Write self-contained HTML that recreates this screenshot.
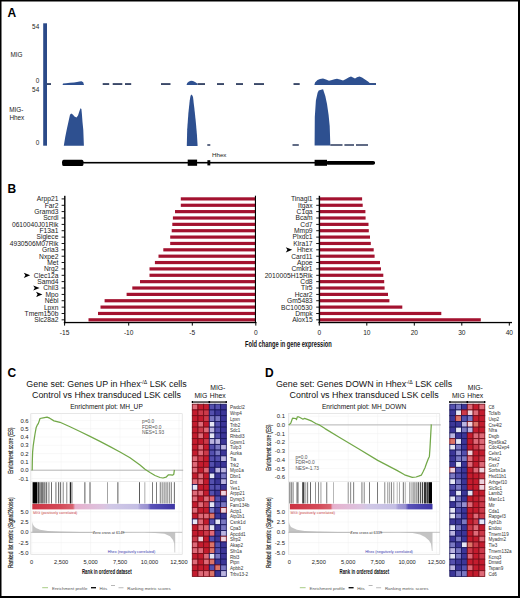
<!DOCTYPE html>
<html><head><meta charset="utf-8"><title>Figure</title>
<style>
html,body{margin:0;padding:0;background:#fff;width:520px;height:598px;overflow:hidden}
svg{display:block}
text{font-family:"Liberation Sans", sans-serif}
</style></head>
<body>
<svg width="520" height="598" viewBox="0 0 520 598">
<rect x="0" y="0" width="520" height="598" fill="#fff"/>
<text x="7.4" y="16.9" font-size="12" text-anchor="start" font-weight="bold" fill="#000" >A</text>
<rect x="43.2" y="23.3" width="3.8" height="122.4" fill="#2b4a88"/>
<text x="39.2" y="29.4" font-size="6.4" text-anchor="end" font-weight="normal" fill="#222" >54</text>
<text x="10.4" y="56.7" font-size="6.4" text-anchor="start" font-weight="normal" fill="#222" >MIG</text>
<text x="39.2" y="83.3" font-size="6.4" text-anchor="end" font-weight="normal" fill="#222" >0</text>
<text x="39.2" y="91.9" font-size="6.4" text-anchor="end" font-weight="normal" fill="#222" >54</text>
<text x="9.2" y="111.5" font-size="6.4" text-anchor="start" font-weight="normal" fill="#222" >MIG-</text>
<text x="9.4" y="119.8" font-size="6.4" text-anchor="start" font-weight="normal" fill="#222" >Hhex</text>
<text x="39.2" y="145.2" font-size="6.4" text-anchor="end" font-weight="normal" fill="#222" >0</text>
<rect x="47" y="83.1" width="4.0" height="1.9" fill="#3a4868"/>
<rect x="102.7" y="83.1" width="6.5" height="1.9" fill="#3a4868"/>
<rect x="112.7" y="83.1" width="9.6" height="1.9" fill="#3a4868"/>
<rect x="125" y="83.1" width="6.2" height="1.9" fill="#3a4868"/>
<rect x="161" y="83.1" width="9.5" height="1.9" fill="#3a4868"/>
<rect x="197.5" y="83.1" width="7.5" height="1.9" fill="#3a4868"/>
<rect x="217" y="83.1" width="7.0" height="1.9" fill="#3a4868"/>
<rect x="236" y="83.1" width="7.0" height="1.9" fill="#3a4868"/>
<rect x="254" y="83.1" width="10.0" height="1.9" fill="#3a4868"/>
<rect x="293.5" y="83.1" width="6.2" height="1.9" fill="#3a4868"/>
<rect x="369" y="83.1" width="7.0" height="1.9" fill="#3a4868"/>
<polygon points="62.6,85 63,83.6 66,83.2 70,82.8 74,82.4 77,82 79.5,81.4 81.5,81.3 83.2,82.2 84,85" fill="#2e5090"/>
<polygon points="186.6,85 187.2,83 189,81.6 191,80.8 193,81 195,82 197.3,83.5 197.6,85" fill="#2e5090"/>
<polygon points="314.4,85 315,82.5 317.5,80 320,79 323,78.4 326,79.6 329,80.8 332,80 334.5,79.2 337,78.8 340,79.5 343,80.6 346,79 349,77.2 351,76.6 353,77.4 355,78.6 357,77.2 359.5,76.4 362,77.6 365,79.6 368,81.5 370,83.2 376,83.4 376,85" fill="#2e5090"/>
<polygon points="63.8,145.8 65.2,137.3 66.8,129.3 68.4,122 70,114.8 71.2,113.4 72.8,114.6 74.5,116.6 76.5,117.4 78,115.4 79.3,111.4 80.5,108.2 81.4,109 81.9,114 82.5,122 83.3,130 83.9,145.8" fill="#2e5090"/>
<polygon points="186.8,145.9 187.2,129.2 188.4,113 189.7,100.8 190.4,96.5 191.1,94.6 192.2,95.2 193,97 194.2,107 195.8,121.8 197,135.4 197.6,145.9" fill="#2e5090"/>
<polygon points="314.6,145.6 314.8,117.1 315.9,100.6 317.6,92.8 318.7,90.6 320.3,90.1 322,89.5 323.1,89.3 323.9,91.7 325.3,96.1 327,103.9 328.6,114.9 329.7,125.9 330.3,144.3 330.3,145.6" fill="#2e5090"/>
<rect x="207.3" y="144.2" width="3.0" height="1.6" fill="#3a4868"/>
<rect x="292.5" y="144.2" width="6.3" height="1.6" fill="#3a4868"/>
<rect x="330.3" y="144.2" width="12.2" height="1.6" fill="#3a4868"/>
<rect x="344.4" y="144.2" width="9.6" height="1.6" fill="#3a4868"/>
<rect x="356" y="144.2" width="12.0" height="1.6" fill="#3a4868"/>
<rect x="62" y="161.9" width="313" height="1.6" fill="#000"/>
<rect x="62.2" y="159.8" width="21.2" height="6.2" rx="1.5" fill="#000"/>
<rect x="187.7" y="159.6" width="9.4" height="6.2" fill="#000"/>
<rect x="207.4" y="160.2" width="2.9" height="5.2" fill="#000"/>
<rect x="314.6" y="159.8" width="12.4" height="6" fill="#000"/>
<rect x="326" y="161.1" width="49" height="3.6" rx="1.8" fill="#000"/>
<text x="212" y="156.7" font-size="6.2" text-anchor="start" font-weight="normal" fill="#222" >Hhex</text>
<text x="7.6" y="192.8" font-size="12" text-anchor="start" font-weight="bold" fill="#000" >B</text>
<rect x="180.8" y="197.30" width="74.2" height="3.2" fill="#a3122f"/>
<rect x="61.6" y="198.45" width="3" height="0.9" fill="#000"/>
<text x="58.4" y="201.30" font-size="7" text-anchor="end" font-weight="normal" fill="#1a1a1a" textLength="21.55" lengthAdjust="spacingAndGlyphs">Arpp21</text>
<rect x="319.6" y="197.30" width="42.5" height="3.2" fill="#a3122f"/>
<rect x="316.2" y="198.45" width="3" height="0.9" fill="#000"/>
<text x="312.6" y="201.30" font-size="7" text-anchor="end" font-weight="normal" fill="#1a1a1a" textLength="21.68" lengthAdjust="spacingAndGlyphs">Tinagl1</text>
<rect x="180.8" y="203.67" width="74.2" height="3.2" fill="#a3122f"/>
<rect x="61.6" y="204.82" width="3" height="0.9" fill="#000"/>
<text x="58.4" y="207.67" font-size="7" text-anchor="end" font-weight="normal" fill="#1a1a1a" textLength="13.74" lengthAdjust="spacingAndGlyphs">Far2</text>
<rect x="319.6" y="203.67" width="43.1" height="3.2" fill="#a3122f"/>
<rect x="316.2" y="204.82" width="3" height="0.9" fill="#000"/>
<text x="312.6" y="207.67" font-size="7" text-anchor="end" font-weight="normal" fill="#1a1a1a" textLength="14.49" lengthAdjust="spacingAndGlyphs">Itgax</text>
<rect x="175" y="210.03" width="80.0" height="3.2" fill="#a3122f"/>
<rect x="61.6" y="211.18" width="3" height="0.9" fill="#000"/>
<text x="58.4" y="214.03" font-size="7" text-anchor="end" font-weight="normal" fill="#1a1a1a" textLength="24.15" lengthAdjust="spacingAndGlyphs">Gramd3</text>
<rect x="319.6" y="210.03" width="45.8" height="3.2" fill="#a3122f"/>
<rect x="316.2" y="211.18" width="3" height="0.9" fill="#000"/>
<text x="312.6" y="214.03" font-size="7" text-anchor="end" font-weight="normal" fill="#1a1a1a" textLength="15.98" lengthAdjust="spacingAndGlyphs">C1qa</text>
<rect x="172.9" y="216.40" width="82.1" height="3.2" fill="#a3122f"/>
<rect x="61.6" y="217.55" width="3" height="0.9" fill="#000"/>
<text x="58.4" y="220.40" font-size="7" text-anchor="end" font-weight="normal" fill="#1a1a1a" textLength="15.23" lengthAdjust="spacingAndGlyphs">Scrdl</text>
<rect x="319.6" y="216.40" width="46.0" height="3.2" fill="#a3122f"/>
<rect x="316.2" y="217.55" width="3" height="0.9" fill="#000"/>
<text x="312.6" y="220.40" font-size="7" text-anchor="end" font-weight="normal" fill="#1a1a1a" textLength="17.09" lengthAdjust="spacingAndGlyphs">Bcam</text>
<rect x="172.3" y="222.76" width="82.7" height="3.2" fill="#a3122f"/>
<rect x="61.6" y="223.91" width="3" height="0.9" fill="#000"/>
<text x="58.4" y="226.76" font-size="7" text-anchor="end" font-weight="normal" fill="#1a1a1a" textLength="46.46" lengthAdjust="spacingAndGlyphs">0610040J01Rik</text>
<rect x="319.6" y="222.76" width="48.9" height="3.2" fill="#a3122f"/>
<rect x="316.2" y="223.91" width="3" height="0.9" fill="#000"/>
<text x="312.6" y="226.76" font-size="7" text-anchor="end" font-weight="normal" fill="#1a1a1a" textLength="12.26" lengthAdjust="spacingAndGlyphs">Cd7</text>
<rect x="171.7" y="229.12" width="83.3" height="3.2" fill="#a3122f"/>
<rect x="61.6" y="230.28" width="3" height="0.9" fill="#000"/>
<text x="58.4" y="233.12" font-size="7" text-anchor="end" font-weight="normal" fill="#1a1a1a" textLength="18.95" lengthAdjust="spacingAndGlyphs">F13a1</text>
<rect x="319.6" y="229.12" width="49.2" height="3.2" fill="#a3122f"/>
<rect x="316.2" y="230.28" width="3" height="0.9" fill="#000"/>
<text x="312.6" y="233.12" font-size="7" text-anchor="end" font-weight="normal" fill="#1a1a1a" textLength="18.57" lengthAdjust="spacingAndGlyphs">Mmp9</text>
<rect x="170.2" y="235.49" width="84.8" height="3.2" fill="#a3122f"/>
<rect x="61.6" y="236.64" width="3" height="0.9" fill="#000"/>
<text x="58.4" y="239.49" font-size="7" text-anchor="end" font-weight="normal" fill="#1a1a1a" textLength="21.92" lengthAdjust="spacingAndGlyphs">Siglece</text>
<rect x="319.6" y="235.49" width="50.4" height="3.2" fill="#a3122f"/>
<rect x="316.2" y="236.64" width="3" height="0.9" fill="#000"/>
<text x="312.6" y="239.49" font-size="7" text-anchor="end" font-weight="normal" fill="#1a1a1a" textLength="20.06" lengthAdjust="spacingAndGlyphs">Plxdc1</text>
<rect x="170.2" y="241.86" width="84.8" height="3.2" fill="#a3122f"/>
<rect x="61.6" y="243.01" width="3" height="0.9" fill="#000"/>
<text x="58.4" y="245.86" font-size="7" text-anchor="end" font-weight="normal" fill="#1a1a1a" textLength="48.68" lengthAdjust="spacingAndGlyphs">4930506M07Rik</text>
<rect x="319.6" y="241.86" width="51.2" height="3.2" fill="#a3122f"/>
<rect x="316.2" y="243.01" width="3" height="0.9" fill="#000"/>
<text x="312.6" y="245.86" font-size="7" text-anchor="end" font-weight="normal" fill="#1a1a1a" textLength="19.32" lengthAdjust="spacingAndGlyphs">Klra17</text>
<rect x="163.3" y="248.22" width="91.7" height="3.2" fill="#a3122f"/>
<rect x="61.6" y="249.37" width="3" height="0.9" fill="#000"/>
<text x="58.4" y="252.22" font-size="7" text-anchor="end" font-weight="normal" fill="#1a1a1a" textLength="16.35" lengthAdjust="spacingAndGlyphs">Gria3</text>
<rect x="319.6" y="248.22" width="54.1" height="3.2" fill="#a3122f"/>
<rect x="316.2" y="249.37" width="3" height="0.9" fill="#000"/>
<text x="312.6" y="252.22" font-size="7" text-anchor="end" font-weight="normal" fill="#1a1a1a" textLength="15.61" lengthAdjust="spacingAndGlyphs">Hhex</text>
<rect x="158.5" y="254.59" width="96.5" height="3.2" fill="#a3122f"/>
<rect x="61.6" y="255.74" width="3" height="0.9" fill="#000"/>
<text x="58.4" y="258.58" font-size="7" text-anchor="end" font-weight="normal" fill="#1a1a1a" textLength="19.32" lengthAdjust="spacingAndGlyphs">Nxpe2</text>
<rect x="319.6" y="254.59" width="55.0" height="3.2" fill="#a3122f"/>
<rect x="316.2" y="255.74" width="3" height="0.9" fill="#000"/>
<text x="312.6" y="258.58" font-size="7" text-anchor="end" font-weight="normal" fill="#1a1a1a" textLength="21.43" lengthAdjust="spacingAndGlyphs">Card11</text>
<rect x="154.9" y="260.95" width="100.1" height="3.2" fill="#a3122f"/>
<rect x="61.6" y="262.10" width="3" height="0.9" fill="#000"/>
<text x="58.4" y="264.95" font-size="7" text-anchor="end" font-weight="normal" fill="#1a1a1a" textLength="11.14" lengthAdjust="spacingAndGlyphs">Met</text>
<rect x="319.6" y="260.95" width="60.4" height="3.2" fill="#a3122f"/>
<rect x="316.2" y="262.10" width="3" height="0.9" fill="#000"/>
<text x="312.6" y="264.95" font-size="7" text-anchor="end" font-weight="normal" fill="#1a1a1a" textLength="15.61" lengthAdjust="spacingAndGlyphs">Apoe</text>
<rect x="149.5" y="267.31" width="105.5" height="3.2" fill="#a3122f"/>
<rect x="61.6" y="268.47" width="3" height="0.9" fill="#000"/>
<text x="58.4" y="271.31" font-size="7" text-anchor="end" font-weight="normal" fill="#1a1a1a" textLength="14.49" lengthAdjust="spacingAndGlyphs">Nrg2</text>
<rect x="319.6" y="267.31" width="61.4" height="3.2" fill="#a3122f"/>
<rect x="316.2" y="268.47" width="3" height="0.9" fill="#000"/>
<text x="312.6" y="271.31" font-size="7" text-anchor="end" font-weight="normal" fill="#1a1a1a" textLength="21.17" lengthAdjust="spacingAndGlyphs">Cmklr1</text>
<rect x="149.5" y="273.68" width="105.5" height="3.2" fill="#a3122f"/>
<rect x="61.6" y="274.83" width="3" height="0.9" fill="#000"/>
<text x="58.4" y="277.68" font-size="7" text-anchor="end" font-weight="normal" fill="#1a1a1a" textLength="24.53" lengthAdjust="spacingAndGlyphs">Clec12a</text>
<rect x="319.6" y="273.68" width="63.7" height="3.2" fill="#a3122f"/>
<rect x="316.2" y="274.83" width="3" height="0.9" fill="#000"/>
<text x="312.6" y="277.68" font-size="7" text-anchor="end" font-weight="normal" fill="#1a1a1a" textLength="47.94" lengthAdjust="spacingAndGlyphs">2010005H15Rik</text>
<rect x="140" y="280.05" width="115.0" height="3.2" fill="#a3122f"/>
<rect x="61.6" y="281.20" width="3" height="0.9" fill="#000"/>
<text x="58.4" y="284.05" font-size="7" text-anchor="end" font-weight="normal" fill="#1a1a1a" textLength="21.18" lengthAdjust="spacingAndGlyphs">Samd4</text>
<rect x="319.6" y="280.05" width="64.6" height="3.2" fill="#a3122f"/>
<rect x="316.2" y="281.20" width="3" height="0.9" fill="#000"/>
<text x="312.6" y="284.05" font-size="7" text-anchor="end" font-weight="normal" fill="#1a1a1a" textLength="12.26" lengthAdjust="spacingAndGlyphs">Cd8</text>
<rect x="132.3" y="286.41" width="122.7" height="3.2" fill="#a3122f"/>
<rect x="61.6" y="287.56" width="3" height="0.9" fill="#000"/>
<text x="58.4" y="290.41" font-size="7" text-anchor="end" font-weight="normal" fill="#1a1a1a" textLength="15.23" lengthAdjust="spacingAndGlyphs">Chil3</text>
<rect x="319.6" y="286.41" width="65.0" height="3.2" fill="#a3122f"/>
<rect x="316.2" y="287.56" width="3" height="0.9" fill="#000"/>
<text x="312.6" y="290.41" font-size="7" text-anchor="end" font-weight="normal" fill="#1a1a1a" textLength="11.51" lengthAdjust="spacingAndGlyphs">Tlr5</text>
<rect x="126.6" y="292.78" width="128.4" height="3.2" fill="#a3122f"/>
<rect x="61.6" y="293.93" width="3" height="0.9" fill="#000"/>
<text x="58.4" y="296.78" font-size="7" text-anchor="end" font-weight="normal" fill="#1a1a1a" textLength="13.00" lengthAdjust="spacingAndGlyphs">Mpo</text>
<rect x="319.6" y="292.78" width="68.4" height="3.2" fill="#a3122f"/>
<rect x="316.2" y="293.93" width="3" height="0.9" fill="#000"/>
<text x="312.6" y="296.78" font-size="7" text-anchor="end" font-weight="normal" fill="#1a1a1a" textLength="17.83" lengthAdjust="spacingAndGlyphs">Hcar2</text>
<rect x="104.6" y="299.14" width="150.4" height="3.2" fill="#a3122f"/>
<rect x="61.6" y="300.29" width="3" height="0.9" fill="#000"/>
<text x="58.4" y="303.14" font-size="7" text-anchor="end" font-weight="normal" fill="#1a1a1a" textLength="13.75" lengthAdjust="spacingAndGlyphs">Nebl</text>
<rect x="319.6" y="299.14" width="69.8" height="3.2" fill="#a3122f"/>
<rect x="316.2" y="300.29" width="3" height="0.9" fill="#000"/>
<text x="312.6" y="303.14" font-size="7" text-anchor="end" font-weight="normal" fill="#1a1a1a" textLength="25.64" lengthAdjust="spacingAndGlyphs">Gm5483</text>
<rect x="100.5" y="305.50" width="154.5" height="3.2" fill="#a3122f"/>
<rect x="61.6" y="306.66" width="3" height="0.9" fill="#000"/>
<text x="58.4" y="309.50" font-size="7" text-anchor="end" font-weight="normal" fill="#1a1a1a" textLength="14.49" lengthAdjust="spacingAndGlyphs">Lpxn</text>
<rect x="319.6" y="305.50" width="82.7" height="3.2" fill="#a3122f"/>
<rect x="316.2" y="306.66" width="3" height="0.9" fill="#000"/>
<text x="312.6" y="309.50" font-size="7" text-anchor="end" font-weight="normal" fill="#1a1a1a" textLength="31.59" lengthAdjust="spacingAndGlyphs">BC100530</text>
<rect x="98" y="311.87" width="157.0" height="3.2" fill="#a3122f"/>
<rect x="61.6" y="313.02" width="3" height="0.9" fill="#000"/>
<text x="58.4" y="315.87" font-size="7" text-anchor="end" font-weight="normal" fill="#1a1a1a" textLength="33.81" lengthAdjust="spacingAndGlyphs">Tmem150b</text>
<rect x="319.6" y="311.87" width="121.7" height="3.2" fill="#a3122f"/>
<rect x="316.2" y="313.02" width="3" height="0.9" fill="#000"/>
<text x="312.6" y="315.87" font-size="7" text-anchor="end" font-weight="normal" fill="#1a1a1a" textLength="17.46" lengthAdjust="spacingAndGlyphs">Dmpk</text>
<rect x="88.5" y="318.24" width="166.5" height="3.2" fill="#a3122f"/>
<rect x="61.6" y="319.39" width="3" height="0.9" fill="#000"/>
<text x="58.4" y="322.24" font-size="7" text-anchor="end" font-weight="normal" fill="#1a1a1a" textLength="24.16" lengthAdjust="spacingAndGlyphs">Slc28a2</text>
<rect x="319.6" y="318.24" width="161.2" height="3.2" fill="#a3122f"/>
<rect x="316.2" y="319.39" width="3" height="0.9" fill="#000"/>
<text x="312.6" y="322.24" font-size="7" text-anchor="end" font-weight="normal" fill="#1a1a1a" textLength="20.44" lengthAdjust="spacingAndGlyphs">Alox15</text>
<polygon points="23.8,272.68 30.200000000000003,275.28000000000003 23.8,277.88000000000005 25.400000000000002,275.28000000000003" fill="#000"/>
<polygon points="33.2,285.41 39.6,288.01000000000005 33.2,290.61000000000007 34.800000000000004,288.01000000000005" fill="#000"/>
<polygon points="36.0,291.77500000000003 42.4,294.37500000000006 36.0,296.9750000000001 37.6,294.37500000000006" fill="#000"/>
<polygon points="285.8,247.22000000000003 292.2,249.82000000000002 285.8,252.42000000000002 287.40000000000003,249.82000000000002" fill="#000"/>
<rect x="64.1" y="195.8" width="1.4" height="127.4" fill="#000"/>
<rect x="63.8" y="321.9" width="192.6" height="1.3" fill="#000"/>
<rect x="254.9" y="195.7" width="1.1" height="127" fill="#000"/>
<rect x="64.1" y="322" width="1" height="3.6" fill="#000"/>
<text x="64.6" y="334.6" font-size="6.6" text-anchor="middle" font-weight="normal" fill="#222" >-15</text>
<rect x="128.2" y="322" width="1" height="3.6" fill="#000"/>
<text x="128.7" y="334.6" font-size="6.6" text-anchor="middle" font-weight="normal" fill="#222" >-10</text>
<rect x="191.8" y="322" width="1" height="3.6" fill="#000"/>
<text x="192.3" y="334.6" font-size="6.6" text-anchor="middle" font-weight="normal" fill="#222" >-5</text>
<rect x="255.3" y="322" width="1" height="3.6" fill="#000"/>
<text x="255.8" y="334.6" font-size="6.6" text-anchor="middle" font-weight="normal" fill="#222" >0</text>
<rect x="318.7" y="195.8" width="1.4" height="127.4" fill="#000"/>
<rect x="318.6" y="321.9" width="193.4" height="1.3" fill="#000"/>
<rect x="318.8" y="322" width="1" height="3.6" fill="#000"/>
<text x="319.3" y="334.6" font-size="6.6" text-anchor="middle" font-weight="normal" fill="#222" >0</text>
<rect x="366.3" y="322" width="1" height="3.6" fill="#000"/>
<text x="366.8" y="334.6" font-size="6.6" text-anchor="middle" font-weight="normal" fill="#222" >10</text>
<rect x="413.8" y="322" width="1" height="3.6" fill="#000"/>
<text x="414.3" y="334.6" font-size="6.6" text-anchor="middle" font-weight="normal" fill="#222" >20</text>
<rect x="461.3" y="322" width="1" height="3.6" fill="#000"/>
<text x="461.8" y="334.6" font-size="6.6" text-anchor="middle" font-weight="normal" fill="#222" >30</text>
<rect x="508.8" y="322" width="1" height="3.6" fill="#000"/>
<text x="509.3" y="334.6" font-size="6.6" text-anchor="middle" font-weight="normal" fill="#222" >40</text>
<text x="245" y="346.8" font-size="8.2" text-anchor="start" font-weight="bold" fill="#111" textLength="86.8" lengthAdjust="spacingAndGlyphs">Fold change in gene expression</text>
<text x="7.4" y="376.5" font-size="12" text-anchor="start" font-weight="bold" fill="#000" >C</text>
<text x="106.5" y="387.1" font-size="8.9" text-anchor="middle" fill="#111">Gene set: Genes UP in Hhex<tspan font-size="5.2" dy="-3.4">-/Δ</tspan><tspan dy="3.4"> LSK cells</tspan></text>
<text x="106.5" y="397.7" font-size="8.9" text-anchor="middle" font-weight="normal" fill="#111" >Control vs Hhex transduced LSK cells</text>
<text x="106.5" y="409" font-size="6.6" text-anchor="middle" font-weight="normal" fill="#111" >Enrichment plot: MH_UP</text>
<rect x="30.8" y="413.7" width="151.4" height="140.9" fill="none" stroke="#d8d8d8" stroke-width="0.6"/>
<line x1="30.8" y1="420.40" x2="182.2" y2="420.40" stroke="#f0f0f0" stroke-width="0.5"/>
<text x="28.6" y="422.50" font-size="5.9" text-anchor="end" font-weight="normal" fill="#222" >0.6</text>
<line x1="30.8" y1="428.70" x2="182.2" y2="428.70" stroke="#f0f0f0" stroke-width="0.5"/>
<text x="28.6" y="430.80" font-size="5.9" text-anchor="end" font-weight="normal" fill="#222" >0.5</text>
<line x1="30.8" y1="437.00" x2="182.2" y2="437.00" stroke="#f0f0f0" stroke-width="0.5"/>
<text x="28.6" y="439.10" font-size="5.9" text-anchor="end" font-weight="normal" fill="#222" >0.4</text>
<line x1="30.8" y1="445.30" x2="182.2" y2="445.30" stroke="#f0f0f0" stroke-width="0.5"/>
<text x="28.6" y="447.40" font-size="5.9" text-anchor="end" font-weight="normal" fill="#222" >0.3</text>
<line x1="30.8" y1="453.60" x2="182.2" y2="453.60" stroke="#f0f0f0" stroke-width="0.5"/>
<text x="28.6" y="455.70" font-size="5.9" text-anchor="end" font-weight="normal" fill="#222" >0.2</text>
<line x1="30.8" y1="461.90" x2="182.2" y2="461.90" stroke="#f0f0f0" stroke-width="0.5"/>
<text x="28.6" y="464.00" font-size="5.9" text-anchor="end" font-weight="normal" fill="#222" >0.1</text>
<line x1="30.8" y1="470.20" x2="182.2" y2="470.20" stroke="#f0f0f0" stroke-width="0.5"/>
<text x="28.6" y="472.30" font-size="5.9" text-anchor="end" font-weight="normal" fill="#222" >0.0</text>
<line x1="30.8" y1="478.50" x2="182.2" y2="478.50" stroke="#f0f0f0" stroke-width="0.5"/>
<text x="28.6" y="480.60" font-size="5.9" text-anchor="end" font-weight="normal" fill="#222" >-0.1</text>
<line x1="31.70" y1="413.7" x2="31.70" y2="554.6" stroke="#f0f0f0" stroke-width="0.5"/>
<line x1="61.15" y1="413.7" x2="61.15" y2="554.6" stroke="#f0f0f0" stroke-width="0.5"/>
<line x1="90.60" y1="413.7" x2="90.60" y2="554.6" stroke="#f0f0f0" stroke-width="0.5"/>
<line x1="120.05" y1="413.7" x2="120.05" y2="554.6" stroke="#f0f0f0" stroke-width="0.5"/>
<line x1="149.50" y1="413.7" x2="149.50" y2="554.6" stroke="#f0f0f0" stroke-width="0.5"/>
<line x1="178.95" y1="413.7" x2="178.95" y2="554.6" stroke="#f0f0f0" stroke-width="0.5"/>
<line x1="30.8" y1="470.20" x2="183.2" y2="470.20" stroke="#8a8a8a" stroke-width="0.6"/>
<polyline points="32.2,470.2 32.3,462.0 32.6,452.4 33.2,446.0 34.0,440.4 35.0,434.0 36.2,427.4 37.2,425.2 38.3,423.6 39.2,421.0 40.0,418.5 43.2,417.8 47.0,417.1 49.7,418.2 54.0,420.9 60.0,422.3 70.0,426.8 80.0,431.5 90.0,436.4 100.0,441.4 110.0,446.6 120.0,452.0 130.0,457.8 140.0,465.0 145.0,469.2 150.0,472.5 155.0,475.5 160.0,477.5 163.0,478.0 166.0,477.2 168.5,474.8 170.5,474.8 172.5,475.2 173.8,474.2 174.4,469.8" fill="none" stroke="#72a848" stroke-width="1.25" stroke-linejoin="round"/>
<text x="142.1" y="423.2" font-size="4.8" text-anchor="start" font-weight="normal" fill="#555" >p=0.0</text>
<text x="142.1" y="428.7" font-size="4.8" text-anchor="start" font-weight="normal" fill="#555" >FDR=0.0</text>
<text x="142.1" y="434.2" font-size="4.8" text-anchor="start" font-weight="normal" fill="#555" >NES=1.93</text>
<line x1="30.8" y1="481.5" x2="182.2" y2="481.5" stroke="#d8d8d8" stroke-width="0.5"/>
<rect x="32.6" y="482.2" width="4.6" height="21.3" fill="#000"/>
<rect x="37.6" y="482.2" width="0.8" height="21.3" fill="#222"/>
<rect x="38.3" y="482.2" width="1.2" height="21.3" fill="#111"/>
<rect x="40.3" y="482.2" width="1.6" height="21.3" fill="#666"/>
<rect x="42.2" y="482.2" width="1.4" height="21.3" fill="#555"/>
<rect x="44.0" y="482.2" width="1.2" height="21.3" fill="#888"/>
<rect x="45.6" y="482.2" width="1.6" height="21.3" fill="#777"/>
<rect x="48.6" y="482.2" width="0.7" height="21.3" fill="#444"/>
<rect x="51.0" y="482.2" width="0.7" height="21.3" fill="#333"/>
<rect x="55.6" y="482.2" width="0.7" height="21.3" fill="#333"/>
<rect x="58.0" y="482.2" width="1.2" height="21.3" fill="#777"/>
<rect x="60.1" y="482.2" width="1" height="21.3" fill="#666"/>
<rect x="62.8" y="482.2" width="0.7" height="21.3" fill="#555"/>
<rect x="66.5" y="482.2" width="0.7" height="21.3" fill="#555"/>
<rect x="69.8" y="482.2" width="1.5" height="21.3" fill="#222"/>
<rect x="71.8" y="482.2" width="0.6" height="21.3" fill="#666"/>
<rect x="84.5" y="482.2" width="0.8" height="21.3" fill="#333"/>
<rect x="89.6" y="482.2" width="0.8" height="21.3" fill="#333"/>
<rect x="107.3" y="482.2" width="0.6" height="21.3" fill="#666"/>
<rect x="117.5" y="482.2" width="0.8" height="21.3" fill="#333"/>
<rect x="139.0" y="482.2" width="0.8" height="21.3" fill="#333"/>
<rect x="144.6" y="482.2" width="0.6" height="21.3" fill="#777"/>
<rect x="152.2" y="482.2" width="0.7" height="21.3" fill="#444"/>
<rect x="156.2" y="482.2" width="0.7" height="21.3" fill="#444"/>
<rect x="159.7" y="482.2" width="1.6" height="21.3" fill="#999"/>
<rect x="161.8" y="482.2" width="1.8" height="21.3" fill="#aaa"/>
<rect x="164.2" y="482.2" width="1.4" height="21.3" fill="#999"/>
<rect x="166.2" y="482.2" width="2" height="21.3" fill="#aaa"/>
<rect x="168.8" y="482.2" width="1.5" height="21.3" fill="#999"/>
<rect x="171.0" y="482.2" width="0.8" height="21.3" fill="#777"/>
<rect x="173.9" y="482.2" width="0.8" height="21.3" fill="#444"/>
<defs><linearGradient id="gC" x1="0" x2="1" y1="0" y2="0"><stop offset="0" stop-color="#cc3242"/><stop offset="0.2" stop-color="#d44a58"/><stop offset="0.285" stop-color="#d86470"/><stop offset="0.3" stop-color="#e6b0cc"/><stop offset="0.5" stop-color="#dcc4e0"/><stop offset="0.55" stop-color="#d0c8e6"/><stop offset="0.74" stop-color="#c4bee4"/><stop offset="0.76" stop-color="#a49cd6"/><stop offset="0.81" stop-color="#9890d0"/><stop offset="0.83" stop-color="#5a52b8"/><stop offset="1" stop-color="#3c34a4"/></linearGradient></defs>
<rect x="32.3" y="503.9" width="142.6" height="5.5" fill="url(#gC)"/>
<text x="33" y="513.6" font-size="3.8" text-anchor="start" font-weight="normal" fill="#c83a3a" >MIG (positively correlated)</text>
<line x1="30.8" y1="511.70" x2="182.2" y2="511.70" stroke="#f0f0f0" stroke-width="0.5"/>
<text x="28.6" y="513.80" font-size="5.9" text-anchor="end" font-weight="normal" fill="#222" >5.0</text>
<line x1="30.8" y1="522.00" x2="182.2" y2="522.00" stroke="#f0f0f0" stroke-width="0.5"/>
<text x="28.6" y="524.10" font-size="5.9" text-anchor="end" font-weight="normal" fill="#222" >2.5</text>
<line x1="30.8" y1="532.30" x2="182.2" y2="532.30" stroke="#f0f0f0" stroke-width="0.5"/>
<text x="28.6" y="534.40" font-size="5.9" text-anchor="end" font-weight="normal" fill="#222" >0.0</text>
<line x1="30.8" y1="542.60" x2="182.2" y2="542.60" stroke="#f0f0f0" stroke-width="0.5"/>
<text x="28.6" y="544.70" font-size="5.9" text-anchor="end" font-weight="normal" fill="#222" >-2.5</text>
<line x1="30.8" y1="552.90" x2="182.2" y2="552.90" stroke="#f0f0f0" stroke-width="0.5"/>
<text x="28.6" y="555.00" font-size="5.9" text-anchor="end" font-weight="normal" fill="#222" >-5.0</text>
<polygon points="32.3,532.4 32.3,521.9 33.0,524.5 34.0,526.3 36.0,528.1 40.0,529.8 48.0,531.0 60.0,531.6 80.0,532.0 110.0,532.2 144.5,532.4 155.0,532.9 164.5,533.8 170.0,536.3 173.0,540.0 174.2,543.5 174.5,552.5 175.2,552.5 175.2,532.4" fill="#c4c4c4"/>
<line x1="30.8" y1="532.3" x2="182.2" y2="532.3" stroke="#8a8a8a" stroke-width="0.5"/>
<rect x="94.6" y="530.3" width="28" height="4" fill="#fff"/>
<text x="108.6" y="533.6" font-size="3.8" text-anchor="middle" font-weight="normal" fill="#333" >Zero cross at 6149</text>
<text x="131.5" y="553.3" font-size="3.8" text-anchor="middle" font-weight="normal" fill="#3a3ab0" >Hhex (negatively correlated)</text>
<text x="31.70" y="563.6" font-size="5.7" text-anchor="middle" font-weight="normal" fill="#222" >0</text>
<text x="61.15" y="563.6" font-size="5.7" text-anchor="middle" font-weight="normal" fill="#222" >2,500</text>
<text x="90.60" y="563.6" font-size="5.7" text-anchor="middle" font-weight="normal" fill="#222" >5,000</text>
<text x="120.05" y="563.6" font-size="5.7" text-anchor="middle" font-weight="normal" fill="#222" >7,500</text>
<text x="149.50" y="563.6" font-size="5.7" text-anchor="middle" font-weight="normal" fill="#222" >10,000</text>
<text x="178.95" y="563.6" font-size="5.7" text-anchor="middle" font-weight="normal" fill="#222" >12,500</text>
<text x="81.9" y="574.2" font-size="7.2" text-anchor="start" font-weight="bold" fill="#111" textLength="49.7" lengthAdjust="spacingAndGlyphs">Rank in ordered dataset</text>
<text transform="translate(13.1,450.6) rotate(-90)" font-size="7" text-anchor="middle" fill="#111" stroke="#111" stroke-width="0.15" textLength="46.3" lengthAdjust="spacingAndGlyphs">Enrichment score (ES)</text>
<text transform="translate(13.1,532.7) rotate(-90)" font-size="7" text-anchor="middle" fill="#111" stroke="#111" stroke-width="0.15" textLength="70.8" lengthAdjust="spacingAndGlyphs">Ranked list metric (Signal2Noise)</text>
<rect x="42.2" y="587.2" width="5.8" height="1" fill="#a9cc86"/>
<text x="52" y="589.6" font-size="4.4" text-anchor="start" font-weight="normal" fill="#555" >Enrichment profile</text>
<rect x="91" y="587" width="5" height="1.4" fill="#111"/>
<text x="99.6" y="589.6" font-size="4.4" text-anchor="start" font-weight="normal" fill="#555" >Hits</text>
<rect x="111" y="585.4" width="4" height="0.6" fill="#888"/>
<rect x="118.5" y="587.4" width="5" height="0.8" fill="#aaa"/>
<text x="127.3" y="589.6" font-size="4.4" text-anchor="start" font-weight="normal" fill="#555" >Ranking metric scores</text>
<text x="200.8" y="398.4" font-size="6.8" text-anchor="middle" font-weight="normal" fill="#111" >MIG</text>
<text x="217.8" y="389.9" font-size="6.8" text-anchor="middle" font-weight="normal" fill="#111" >MIG-</text>
<text x="217.8" y="398.4" font-size="6.8" text-anchor="middle" font-weight="normal" fill="#111" >Hhex</text>
<rect x="191.90" y="401.4" width="34.82" height="1.3" fill="#1a1a1a"/>
<rect x="191.80" y="401" width="1.2" height="2" fill="#000"/>
<rect x="225.62" y="401" width="1.2" height="2" fill="#000"/>
<rect x="208.51" y="401" width="1.6" height="2" fill="#000"/>
<rect x="192.30" y="404.20" width="5.67" height="5.74" fill="#de6a78" stroke="#760c18" stroke-width="0.85"/>
<rect x="197.97" y="404.20" width="5.67" height="5.74" fill="#c41c2e" stroke="#760c18" stroke-width="0.85"/>
<rect x="203.64" y="404.20" width="5.67" height="5.74" fill="#c41c2e" stroke="#760c18" stroke-width="0.85"/>
<rect x="209.31" y="404.20" width="5.67" height="5.74" fill="#5450ae" stroke="#18165c" stroke-width="0.85"/>
<rect x="214.98" y="404.20" width="5.67" height="5.74" fill="#5450ae" stroke="#18165c" stroke-width="0.85"/>
<rect x="220.65" y="404.20" width="5.67" height="5.74" fill="#3c3698" stroke="#18165c" stroke-width="0.85"/>
<text x="229.92" y="409.30" font-size="4.6" text-anchor="start" font-weight="normal" fill="#333" >Pwdcl2</text>
<rect x="192.30" y="409.94" width="5.67" height="5.74" fill="#c41c2e" stroke="#760c18" stroke-width="0.85"/>
<rect x="197.97" y="409.94" width="5.67" height="5.74" fill="#cc3a4a" stroke="#760c18" stroke-width="0.85"/>
<rect x="203.64" y="409.94" width="5.67" height="5.74" fill="#cc3a4a" stroke="#760c18" stroke-width="0.85"/>
<rect x="209.31" y="409.94" width="5.67" height="5.74" fill="#5450ae" stroke="#18165c" stroke-width="0.85"/>
<rect x="214.98" y="409.94" width="5.67" height="5.74" fill="#3c3698" stroke="#18165c" stroke-width="0.85"/>
<rect x="220.65" y="409.94" width="5.67" height="5.74" fill="#3c3698" stroke="#18165c" stroke-width="0.85"/>
<text x="229.92" y="415.04" font-size="4.6" text-anchor="start" font-weight="normal" fill="#333" >Wnp4</text>
<rect x="192.30" y="415.68" width="5.67" height="5.74" fill="#c41c2e" stroke="#760c18" stroke-width="0.85"/>
<rect x="197.97" y="415.68" width="5.67" height="5.74" fill="#c41c2e" stroke="#760c18" stroke-width="0.85"/>
<rect x="203.64" y="415.68" width="5.67" height="5.74" fill="#cc3a4a" stroke="#760c18" stroke-width="0.85"/>
<rect x="209.31" y="415.68" width="5.67" height="5.74" fill="#7a78c2" stroke="#18165c" stroke-width="0.85"/>
<rect x="214.98" y="415.68" width="5.67" height="5.74" fill="#7a78c2" stroke="#18165c" stroke-width="0.85"/>
<rect x="220.65" y="415.68" width="5.67" height="5.74" fill="#3c3698" stroke="#18165c" stroke-width="0.85"/>
<text x="229.92" y="420.78" font-size="4.6" text-anchor="start" font-weight="normal" fill="#333" >Lpxn</text>
<rect x="192.30" y="421.42" width="5.67" height="5.74" fill="#c41c2e" stroke="#760c18" stroke-width="0.85"/>
<rect x="197.97" y="421.42" width="5.67" height="5.74" fill="#de6a78" stroke="#760c18" stroke-width="0.85"/>
<rect x="203.64" y="421.42" width="5.67" height="5.74" fill="#c41c2e" stroke="#760c18" stroke-width="0.85"/>
<rect x="209.31" y="421.42" width="5.67" height="5.74" fill="#e4e6f4" stroke="#18165c" stroke-width="0.85"/>
<rect x="214.98" y="421.42" width="5.67" height="5.74" fill="#5450ae" stroke="#18165c" stroke-width="0.85"/>
<rect x="220.65" y="421.42" width="5.67" height="5.74" fill="#3c3698" stroke="#18165c" stroke-width="0.85"/>
<text x="229.92" y="426.52" font-size="4.6" text-anchor="start" font-weight="normal" fill="#333" >Trib2</text>
<rect x="192.30" y="427.16" width="5.67" height="5.74" fill="#c41c2e" stroke="#760c18" stroke-width="0.85"/>
<rect x="197.97" y="427.16" width="5.67" height="5.74" fill="#cc3a4a" stroke="#760c18" stroke-width="0.85"/>
<rect x="203.64" y="427.16" width="5.67" height="5.74" fill="#de6a78" stroke="#760c18" stroke-width="0.85"/>
<rect x="209.31" y="427.16" width="5.67" height="5.74" fill="#bab4e0" stroke="#18165c" stroke-width="0.85"/>
<rect x="214.98" y="427.16" width="5.67" height="5.74" fill="#5450ae" stroke="#18165c" stroke-width="0.85"/>
<rect x="220.65" y="427.16" width="5.67" height="5.74" fill="#3c3698" stroke="#18165c" stroke-width="0.85"/>
<text x="229.92" y="432.26" font-size="4.6" text-anchor="start" font-weight="normal" fill="#333" >Sdc1</text>
<rect x="192.30" y="432.90" width="5.67" height="5.74" fill="#c41c2e" stroke="#760c18" stroke-width="0.85"/>
<rect x="197.97" y="432.90" width="5.67" height="5.74" fill="#de6a78" stroke="#760c18" stroke-width="0.85"/>
<rect x="203.64" y="432.90" width="5.67" height="5.74" fill="#c41c2e" stroke="#760c18" stroke-width="0.85"/>
<rect x="209.31" y="432.90" width="5.67" height="5.74" fill="#e4e6f4" stroke="#18165c" stroke-width="0.85"/>
<rect x="214.98" y="432.90" width="5.67" height="5.74" fill="#5450ae" stroke="#18165c" stroke-width="0.85"/>
<rect x="220.65" y="432.90" width="5.67" height="5.74" fill="#3c3698" stroke="#18165c" stroke-width="0.85"/>
<text x="229.92" y="438.00" font-size="4.6" text-anchor="start" font-weight="normal" fill="#333" >Rhbdl3</text>
<rect x="192.30" y="438.64" width="5.67" height="5.74" fill="#c41c2e" stroke="#760c18" stroke-width="0.85"/>
<rect x="197.97" y="438.64" width="5.67" height="5.74" fill="#c41c2e" stroke="#760c18" stroke-width="0.85"/>
<rect x="203.64" y="438.64" width="5.67" height="5.74" fill="#cc3a4a" stroke="#760c18" stroke-width="0.85"/>
<rect x="209.31" y="438.64" width="5.67" height="5.74" fill="#bab4e0" stroke="#18165c" stroke-width="0.85"/>
<rect x="214.98" y="438.64" width="5.67" height="5.74" fill="#bab4e0" stroke="#18165c" stroke-width="0.85"/>
<rect x="220.65" y="438.64" width="5.67" height="5.74" fill="#3c3698" stroke="#18165c" stroke-width="0.85"/>
<text x="229.92" y="443.74" font-size="4.6" text-anchor="start" font-weight="normal" fill="#333" >Gpsm1</text>
<rect x="192.30" y="444.38" width="5.67" height="5.74" fill="#c41c2e" stroke="#760c18" stroke-width="0.85"/>
<rect x="197.97" y="444.38" width="5.67" height="5.74" fill="#de6a78" stroke="#760c18" stroke-width="0.85"/>
<rect x="203.64" y="444.38" width="5.67" height="5.74" fill="#c41c2e" stroke="#760c18" stroke-width="0.85"/>
<rect x="209.31" y="444.38" width="5.67" height="5.74" fill="#5450ae" stroke="#18165c" stroke-width="0.85"/>
<rect x="214.98" y="444.38" width="5.67" height="5.74" fill="#7a78c2" stroke="#18165c" stroke-width="0.85"/>
<rect x="220.65" y="444.38" width="5.67" height="5.74" fill="#bab4e0" stroke="#18165c" stroke-width="0.85"/>
<text x="229.92" y="449.48" font-size="4.6" text-anchor="start" font-weight="normal" fill="#333" >Tulp3</text>
<rect x="192.30" y="450.12" width="5.67" height="5.74" fill="#c41c2e" stroke="#760c18" stroke-width="0.85"/>
<rect x="197.97" y="450.12" width="5.67" height="5.74" fill="#de6a78" stroke="#760c18" stroke-width="0.85"/>
<rect x="203.64" y="450.12" width="5.67" height="5.74" fill="#cc3a4a" stroke="#760c18" stroke-width="0.85"/>
<rect x="209.31" y="450.12" width="5.67" height="5.74" fill="#5450ae" stroke="#18165c" stroke-width="0.85"/>
<rect x="214.98" y="450.12" width="5.67" height="5.74" fill="#7a78c2" stroke="#18165c" stroke-width="0.85"/>
<rect x="220.65" y="450.12" width="5.67" height="5.74" fill="#3c3698" stroke="#18165c" stroke-width="0.85"/>
<text x="229.92" y="455.22" font-size="4.6" text-anchor="start" font-weight="normal" fill="#333" >Aurka</text>
<rect x="192.30" y="455.86" width="5.67" height="5.74" fill="#de6a78" stroke="#760c18" stroke-width="0.85"/>
<rect x="197.97" y="455.86" width="5.67" height="5.74" fill="#cc3a4a" stroke="#760c18" stroke-width="0.85"/>
<rect x="203.64" y="455.86" width="5.67" height="5.74" fill="#c41c2e" stroke="#760c18" stroke-width="0.85"/>
<rect x="209.31" y="455.86" width="5.67" height="5.74" fill="#5450ae" stroke="#18165c" stroke-width="0.85"/>
<rect x="214.98" y="455.86" width="5.67" height="5.74" fill="#5450ae" stroke="#18165c" stroke-width="0.85"/>
<rect x="220.65" y="455.86" width="5.67" height="5.74" fill="#bab4e0" stroke="#18165c" stroke-width="0.85"/>
<text x="229.92" y="460.96" font-size="4.6" text-anchor="start" font-weight="normal" fill="#333" >Tia</text>
<rect x="192.30" y="461.60" width="5.67" height="5.74" fill="#de6a78" stroke="#760c18" stroke-width="0.85"/>
<rect x="197.97" y="461.60" width="5.67" height="5.74" fill="#c41c2e" stroke="#760c18" stroke-width="0.85"/>
<rect x="203.64" y="461.60" width="5.67" height="5.74" fill="#c41c2e" stroke="#760c18" stroke-width="0.85"/>
<rect x="209.31" y="461.60" width="5.67" height="5.74" fill="#5450ae" stroke="#18165c" stroke-width="0.85"/>
<rect x="214.98" y="461.60" width="5.67" height="5.74" fill="#3c3698" stroke="#18165c" stroke-width="0.85"/>
<rect x="220.65" y="461.60" width="5.67" height="5.74" fill="#3c3698" stroke="#18165c" stroke-width="0.85"/>
<text x="229.92" y="466.70" font-size="4.6" text-anchor="start" font-weight="normal" fill="#333" >Trk2</text>
<rect x="192.30" y="467.34" width="5.67" height="5.74" fill="#de6a78" stroke="#760c18" stroke-width="0.85"/>
<rect x="197.97" y="467.34" width="5.67" height="5.74" fill="#c41c2e" stroke="#760c18" stroke-width="0.85"/>
<rect x="203.64" y="467.34" width="5.67" height="5.74" fill="#de6a78" stroke="#760c18" stroke-width="0.85"/>
<rect x="209.31" y="467.34" width="5.67" height="5.74" fill="#3c3698" stroke="#18165c" stroke-width="0.85"/>
<rect x="214.98" y="467.34" width="5.67" height="5.74" fill="#bab4e0" stroke="#18165c" stroke-width="0.85"/>
<rect x="220.65" y="467.34" width="5.67" height="5.74" fill="#bab4e0" stroke="#18165c" stroke-width="0.85"/>
<text x="229.92" y="472.44" font-size="4.6" text-anchor="start" font-weight="normal" fill="#333" >Myo1a</text>
<rect x="192.30" y="473.08" width="5.67" height="5.74" fill="#c41c2e" stroke="#760c18" stroke-width="0.85"/>
<rect x="197.97" y="473.08" width="5.67" height="5.74" fill="#de6a78" stroke="#760c18" stroke-width="0.85"/>
<rect x="203.64" y="473.08" width="5.67" height="5.74" fill="#c41c2e" stroke="#760c18" stroke-width="0.85"/>
<rect x="209.31" y="473.08" width="5.67" height="5.74" fill="#e4e6f4" stroke="#18165c" stroke-width="0.85"/>
<rect x="214.98" y="473.08" width="5.67" height="5.74" fill="#3c3698" stroke="#18165c" stroke-width="0.85"/>
<rect x="220.65" y="473.08" width="5.67" height="5.74" fill="#7a78c2" stroke="#18165c" stroke-width="0.85"/>
<text x="229.92" y="478.18" font-size="4.6" text-anchor="start" font-weight="normal" fill="#333" >Dbn1</text>
<rect x="192.30" y="478.82" width="5.67" height="5.74" fill="#de6a78" stroke="#760c18" stroke-width="0.85"/>
<rect x="197.97" y="478.82" width="5.67" height="5.74" fill="#de6a78" stroke="#760c18" stroke-width="0.85"/>
<rect x="203.64" y="478.82" width="5.67" height="5.74" fill="#c41c2e" stroke="#760c18" stroke-width="0.85"/>
<rect x="209.31" y="478.82" width="5.67" height="5.74" fill="#5450ae" stroke="#18165c" stroke-width="0.85"/>
<rect x="214.98" y="478.82" width="5.67" height="5.74" fill="#3c3698" stroke="#18165c" stroke-width="0.85"/>
<rect x="220.65" y="478.82" width="5.67" height="5.74" fill="#bab4e0" stroke="#18165c" stroke-width="0.85"/>
<text x="229.92" y="483.92" font-size="4.6" text-anchor="start" font-weight="normal" fill="#333" >Dnt</text>
<rect x="192.30" y="484.56" width="5.67" height="5.74" fill="#e4e6f4" stroke="#18165c" stroke-width="0.85"/>
<rect x="197.97" y="484.56" width="5.67" height="5.74" fill="#c41c2e" stroke="#760c18" stroke-width="0.85"/>
<rect x="203.64" y="484.56" width="5.67" height="5.74" fill="#c41c2e" stroke="#760c18" stroke-width="0.85"/>
<rect x="209.31" y="484.56" width="5.67" height="5.74" fill="#5450ae" stroke="#18165c" stroke-width="0.85"/>
<rect x="214.98" y="484.56" width="5.67" height="5.74" fill="#5450ae" stroke="#18165c" stroke-width="0.85"/>
<rect x="220.65" y="484.56" width="5.67" height="5.74" fill="#3c3698" stroke="#18165c" stroke-width="0.85"/>
<text x="229.92" y="489.66" font-size="4.6" text-anchor="start" font-weight="normal" fill="#333" >Yes1</text>
<rect x="192.30" y="490.30" width="5.67" height="5.74" fill="#de6a78" stroke="#760c18" stroke-width="0.85"/>
<rect x="197.97" y="490.30" width="5.67" height="5.74" fill="#de6a78" stroke="#760c18" stroke-width="0.85"/>
<rect x="203.64" y="490.30" width="5.67" height="5.74" fill="#c41c2e" stroke="#760c18" stroke-width="0.85"/>
<rect x="209.31" y="490.30" width="5.67" height="5.74" fill="#5450ae" stroke="#18165c" stroke-width="0.85"/>
<rect x="214.98" y="490.30" width="5.67" height="5.74" fill="#3c3698" stroke="#18165c" stroke-width="0.85"/>
<rect x="220.65" y="490.30" width="5.67" height="5.74" fill="#eed2dc" stroke="#760c18" stroke-width="0.85"/>
<text x="229.92" y="495.40" font-size="4.6" text-anchor="start" font-weight="normal" fill="#333" >Arpp21</text>
<rect x="192.30" y="496.04" width="5.67" height="5.74" fill="#de6a78" stroke="#760c18" stroke-width="0.85"/>
<rect x="197.97" y="496.04" width="5.67" height="5.74" fill="#c41c2e" stroke="#760c18" stroke-width="0.85"/>
<rect x="203.64" y="496.04" width="5.67" height="5.74" fill="#de6a78" stroke="#760c18" stroke-width="0.85"/>
<rect x="209.31" y="496.04" width="5.67" height="5.74" fill="#de6a78" stroke="#760c18" stroke-width="0.85"/>
<rect x="214.98" y="496.04" width="5.67" height="5.74" fill="#5450ae" stroke="#18165c" stroke-width="0.85"/>
<rect x="220.65" y="496.04" width="5.67" height="5.74" fill="#3c3698" stroke="#18165c" stroke-width="0.85"/>
<text x="229.92" y="501.14" font-size="4.6" text-anchor="start" font-weight="normal" fill="#333" >Dyrsp3</text>
<rect x="192.30" y="501.78" width="5.67" height="5.74" fill="#c41c2e" stroke="#760c18" stroke-width="0.85"/>
<rect x="197.97" y="501.78" width="5.67" height="5.74" fill="#de6a78" stroke="#760c18" stroke-width="0.85"/>
<rect x="203.64" y="501.78" width="5.67" height="5.74" fill="#cc3a4a" stroke="#760c18" stroke-width="0.85"/>
<rect x="209.31" y="501.78" width="5.67" height="5.74" fill="#e4e6f4" stroke="#18165c" stroke-width="0.85"/>
<rect x="214.98" y="501.78" width="5.67" height="5.74" fill="#5450ae" stroke="#18165c" stroke-width="0.85"/>
<rect x="220.65" y="501.78" width="5.67" height="5.74" fill="#7a78c2" stroke="#18165c" stroke-width="0.85"/>
<text x="229.92" y="506.88" font-size="4.6" text-anchor="start" font-weight="normal" fill="#333" >Fam134b</text>
<rect x="192.30" y="507.52" width="5.67" height="5.74" fill="#de6a78" stroke="#760c18" stroke-width="0.85"/>
<rect x="197.97" y="507.52" width="5.67" height="5.74" fill="#c41c2e" stroke="#760c18" stroke-width="0.85"/>
<rect x="203.64" y="507.52" width="5.67" height="5.74" fill="#c41c2e" stroke="#760c18" stroke-width="0.85"/>
<rect x="209.31" y="507.52" width="5.67" height="5.74" fill="#7a78c2" stroke="#18165c" stroke-width="0.85"/>
<rect x="214.98" y="507.52" width="5.67" height="5.74" fill="#3c3698" stroke="#18165c" stroke-width="0.85"/>
<rect x="220.65" y="507.52" width="5.67" height="5.74" fill="#eed2dc" stroke="#760c18" stroke-width="0.85"/>
<text x="229.92" y="512.62" font-size="4.6" text-anchor="start" font-weight="normal" fill="#333" >Actp1</text>
<rect x="192.30" y="513.26" width="5.67" height="5.74" fill="#c41c2e" stroke="#760c18" stroke-width="0.85"/>
<rect x="197.97" y="513.26" width="5.67" height="5.74" fill="#de6a78" stroke="#760c18" stroke-width="0.85"/>
<rect x="203.64" y="513.26" width="5.67" height="5.74" fill="#de6a78" stroke="#760c18" stroke-width="0.85"/>
<rect x="209.31" y="513.26" width="5.67" height="5.74" fill="#dc7468" stroke="#760c18" stroke-width="0.85"/>
<rect x="214.98" y="513.26" width="5.67" height="5.74" fill="#3c3698" stroke="#18165c" stroke-width="0.85"/>
<rect x="220.65" y="513.26" width="5.67" height="5.74" fill="#3c3698" stroke="#18165c" stroke-width="0.85"/>
<text x="229.92" y="518.36" font-size="4.6" text-anchor="start" font-weight="normal" fill="#333" >Atp1b1</text>
<rect x="192.30" y="519.00" width="5.67" height="5.74" fill="#e4e6f4" stroke="#18165c" stroke-width="0.85"/>
<rect x="197.97" y="519.00" width="5.67" height="5.74" fill="#de6a78" stroke="#760c18" stroke-width="0.85"/>
<rect x="203.64" y="519.00" width="5.67" height="5.74" fill="#c41c2e" stroke="#760c18" stroke-width="0.85"/>
<rect x="209.31" y="519.00" width="5.67" height="5.74" fill="#5450ae" stroke="#18165c" stroke-width="0.85"/>
<rect x="214.98" y="519.00" width="5.67" height="5.74" fill="#e4e6f4" stroke="#18165c" stroke-width="0.85"/>
<rect x="220.65" y="519.00" width="5.67" height="5.74" fill="#7a78c2" stroke="#18165c" stroke-width="0.85"/>
<text x="229.92" y="524.10" font-size="4.6" text-anchor="start" font-weight="normal" fill="#333" >Csnk1d</text>
<rect x="192.30" y="524.74" width="5.67" height="5.74" fill="#c41c2e" stroke="#760c18" stroke-width="0.85"/>
<rect x="197.97" y="524.74" width="5.67" height="5.74" fill="#de6a78" stroke="#760c18" stroke-width="0.85"/>
<rect x="203.64" y="524.74" width="5.67" height="5.74" fill="#de6a78" stroke="#760c18" stroke-width="0.85"/>
<rect x="209.31" y="524.74" width="5.67" height="5.74" fill="#e4e6f4" stroke="#18165c" stroke-width="0.85"/>
<rect x="214.98" y="524.74" width="5.67" height="5.74" fill="#3c3698" stroke="#18165c" stroke-width="0.85"/>
<rect x="220.65" y="524.74" width="5.67" height="5.74" fill="#7a78c2" stroke="#18165c" stroke-width="0.85"/>
<text x="229.92" y="529.84" font-size="4.6" text-anchor="start" font-weight="normal" fill="#333" >Cpa3</text>
<rect x="192.30" y="530.48" width="5.67" height="5.74" fill="#c41c2e" stroke="#760c18" stroke-width="0.85"/>
<rect x="197.97" y="530.48" width="5.67" height="5.74" fill="#c41c2e" stroke="#760c18" stroke-width="0.85"/>
<rect x="203.64" y="530.48" width="5.67" height="5.74" fill="#cc3a4a" stroke="#760c18" stroke-width="0.85"/>
<rect x="209.31" y="530.48" width="5.67" height="5.74" fill="#de6a78" stroke="#760c18" stroke-width="0.85"/>
<rect x="214.98" y="530.48" width="5.67" height="5.74" fill="#3c3698" stroke="#18165c" stroke-width="0.85"/>
<rect x="220.65" y="530.48" width="5.67" height="5.74" fill="#bab4e0" stroke="#18165c" stroke-width="0.85"/>
<text x="229.92" y="535.58" font-size="4.6" text-anchor="start" font-weight="normal" fill="#333" >Apcdd1</text>
<rect x="192.30" y="536.22" width="5.67" height="5.74" fill="#cc3a4a" stroke="#760c18" stroke-width="0.85"/>
<rect x="197.97" y="536.22" width="5.67" height="5.74" fill="#eed2dc" stroke="#760c18" stroke-width="0.85"/>
<rect x="203.64" y="536.22" width="5.67" height="5.74" fill="#c41c2e" stroke="#760c18" stroke-width="0.85"/>
<rect x="209.31" y="536.22" width="5.67" height="5.74" fill="#5450ae" stroke="#18165c" stroke-width="0.85"/>
<rect x="214.98" y="536.22" width="5.67" height="5.74" fill="#3c3698" stroke="#18165c" stroke-width="0.85"/>
<rect x="220.65" y="536.22" width="5.67" height="5.74" fill="#eed2dc" stroke="#760c18" stroke-width="0.85"/>
<text x="229.92" y="541.32" font-size="4.6" text-anchor="start" font-weight="normal" fill="#333" >Sfrp2</text>
<rect x="192.30" y="541.96" width="5.67" height="5.74" fill="#de6a78" stroke="#760c18" stroke-width="0.85"/>
<rect x="197.97" y="541.96" width="5.67" height="5.74" fill="#c41c2e" stroke="#760c18" stroke-width="0.85"/>
<rect x="203.64" y="541.96" width="5.67" height="5.74" fill="#c41c2e" stroke="#760c18" stroke-width="0.85"/>
<rect x="209.31" y="541.96" width="5.67" height="5.74" fill="#dc7468" stroke="#760c18" stroke-width="0.85"/>
<rect x="214.98" y="541.96" width="5.67" height="5.74" fill="#5450ae" stroke="#18165c" stroke-width="0.85"/>
<rect x="220.65" y="541.96" width="5.67" height="5.74" fill="#3c3698" stroke="#18165c" stroke-width="0.85"/>
<text x="229.92" y="547.06" font-size="4.6" text-anchor="start" font-weight="normal" fill="#333" >Akap2</text>
<rect x="192.30" y="547.70" width="5.67" height="5.74" fill="#de6a78" stroke="#760c18" stroke-width="0.85"/>
<rect x="197.97" y="547.70" width="5.67" height="5.74" fill="#de6a78" stroke="#760c18" stroke-width="0.85"/>
<rect x="203.64" y="547.70" width="5.67" height="5.74" fill="#c41c2e" stroke="#760c18" stroke-width="0.85"/>
<rect x="209.31" y="547.70" width="5.67" height="5.74" fill="#dc7468" stroke="#760c18" stroke-width="0.85"/>
<rect x="214.98" y="547.70" width="5.67" height="5.74" fill="#5450ae" stroke="#18165c" stroke-width="0.85"/>
<rect x="220.65" y="547.70" width="5.67" height="5.74" fill="#3c3698" stroke="#18165c" stroke-width="0.85"/>
<text x="229.92" y="552.80" font-size="4.6" text-anchor="start" font-weight="normal" fill="#333" >Sfn1a</text>
<rect x="192.30" y="553.44" width="5.67" height="5.74" fill="#c41c2e" stroke="#760c18" stroke-width="0.85"/>
<rect x="197.97" y="553.44" width="5.67" height="5.74" fill="#c41c2e" stroke="#760c18" stroke-width="0.85"/>
<rect x="203.64" y="553.44" width="5.67" height="5.74" fill="#de6a78" stroke="#760c18" stroke-width="0.85"/>
<rect x="209.31" y="553.44" width="5.67" height="5.74" fill="#e4e6f4" stroke="#18165c" stroke-width="0.85"/>
<rect x="214.98" y="553.44" width="5.67" height="5.74" fill="#7a78c2" stroke="#18165c" stroke-width="0.85"/>
<rect x="220.65" y="553.44" width="5.67" height="5.74" fill="#3c3698" stroke="#18165c" stroke-width="0.85"/>
<text x="229.92" y="558.54" font-size="4.6" text-anchor="start" font-weight="normal" fill="#333" >Rbl3</text>
<rect x="192.30" y="559.18" width="5.67" height="5.74" fill="#de6a78" stroke="#760c18" stroke-width="0.85"/>
<rect x="197.97" y="559.18" width="5.67" height="5.74" fill="#c41c2e" stroke="#760c18" stroke-width="0.85"/>
<rect x="203.64" y="559.18" width="5.67" height="5.74" fill="#de6a78" stroke="#760c18" stroke-width="0.85"/>
<rect x="209.31" y="559.18" width="5.67" height="5.74" fill="#dc7468" stroke="#760c18" stroke-width="0.85"/>
<rect x="214.98" y="559.18" width="5.67" height="5.74" fill="#3c3698" stroke="#18165c" stroke-width="0.85"/>
<rect x="220.65" y="559.18" width="5.67" height="5.74" fill="#3c3698" stroke="#18165c" stroke-width="0.85"/>
<text x="229.92" y="564.28" font-size="4.6" text-anchor="start" font-weight="normal" fill="#333" >Ptpn</text>
<rect x="192.30" y="564.92" width="5.67" height="5.74" fill="#c41c2e" stroke="#760c18" stroke-width="0.85"/>
<rect x="197.97" y="564.92" width="5.67" height="5.74" fill="#c41c2e" stroke="#760c18" stroke-width="0.85"/>
<rect x="203.64" y="564.92" width="5.67" height="5.74" fill="#c41c2e" stroke="#760c18" stroke-width="0.85"/>
<rect x="209.31" y="564.92" width="5.67" height="5.74" fill="#5450ae" stroke="#18165c" stroke-width="0.85"/>
<rect x="214.98" y="564.92" width="5.67" height="5.74" fill="#dc7468" stroke="#760c18" stroke-width="0.85"/>
<rect x="220.65" y="564.92" width="5.67" height="5.74" fill="#7a78c2" stroke="#18165c" stroke-width="0.85"/>
<text x="229.92" y="570.02" font-size="4.6" text-anchor="start" font-weight="normal" fill="#333" >Apbb2</text>
<rect x="192.30" y="570.66" width="5.67" height="5.74" fill="#c41c2e" stroke="#760c18" stroke-width="0.85"/>
<rect x="197.97" y="570.66" width="5.67" height="5.74" fill="#de6a78" stroke="#760c18" stroke-width="0.85"/>
<rect x="203.64" y="570.66" width="5.67" height="5.74" fill="#de6a78" stroke="#760c18" stroke-width="0.85"/>
<rect x="209.31" y="570.66" width="5.67" height="5.74" fill="#dc7468" stroke="#760c18" stroke-width="0.85"/>
<rect x="214.98" y="570.66" width="5.67" height="5.74" fill="#3c3698" stroke="#18165c" stroke-width="0.85"/>
<rect x="220.65" y="570.66" width="5.67" height="5.74" fill="#bab4e0" stroke="#18165c" stroke-width="0.85"/>
<text x="229.92" y="575.76" font-size="4.6" text-anchor="start" font-weight="normal" fill="#333" >Trbv13-2</text>
<text x="265.0" y="376.5" font-size="12" text-anchor="start" font-weight="bold" fill="#000" >D</text>
<text x="364.1" y="387.1" font-size="8.9" text-anchor="middle" fill="#111">Gene set: Genes DOWN in Hhex<tspan font-size="5.2" dy="-3.4">-/Δ</tspan><tspan dy="3.4"> LSK cells</tspan></text>
<text x="364.1" y="397.7" font-size="8.9" text-anchor="middle" font-weight="normal" fill="#111" >Control vs Hhex transduced LSK cells</text>
<text x="364.1" y="409" font-size="6.6" text-anchor="middle" font-weight="normal" fill="#111" >Enrichment plot: MH_DOWN</text>
<rect x="288.40000000000003" y="413.7" width="151.4" height="140.9" fill="none" stroke="#d8d8d8" stroke-width="0.6"/>
<line x1="288.40000000000003" y1="416.20" x2="439.8" y2="416.20" stroke="#f0f0f0" stroke-width="0.5"/>
<text x="285.00000000000006" y="418.30" font-size="5.9" text-anchor="end" font-weight="normal" fill="#222" >0.1</text>
<line x1="288.40000000000003" y1="424.90" x2="439.8" y2="424.90" stroke="#f0f0f0" stroke-width="0.5"/>
<text x="285.00000000000006" y="427.00" font-size="5.9" text-anchor="end" font-weight="normal" fill="#222" >0.0</text>
<line x1="288.40000000000003" y1="433.60" x2="439.8" y2="433.60" stroke="#f0f0f0" stroke-width="0.5"/>
<text x="285.00000000000006" y="435.70" font-size="5.9" text-anchor="end" font-weight="normal" fill="#222" >-0.1</text>
<line x1="288.40000000000003" y1="442.30" x2="439.8" y2="442.30" stroke="#f0f0f0" stroke-width="0.5"/>
<text x="285.00000000000006" y="444.40" font-size="5.9" text-anchor="end" font-weight="normal" fill="#222" >-0.2</text>
<line x1="288.40000000000003" y1="451.00" x2="439.8" y2="451.00" stroke="#f0f0f0" stroke-width="0.5"/>
<text x="285.00000000000006" y="453.10" font-size="5.9" text-anchor="end" font-weight="normal" fill="#222" >-0.3</text>
<line x1="288.40000000000003" y1="459.70" x2="439.8" y2="459.70" stroke="#f0f0f0" stroke-width="0.5"/>
<text x="285.00000000000006" y="461.80" font-size="5.9" text-anchor="end" font-weight="normal" fill="#222" >-0.4</text>
<line x1="288.40000000000003" y1="468.40" x2="439.8" y2="468.40" stroke="#f0f0f0" stroke-width="0.5"/>
<text x="285.00000000000006" y="470.50" font-size="5.9" text-anchor="end" font-weight="normal" fill="#222" >-0.5</text>
<line x1="288.40000000000003" y1="477.10" x2="439.8" y2="477.10" stroke="#f0f0f0" stroke-width="0.5"/>
<text x="285.00000000000006" y="479.20" font-size="5.9" text-anchor="end" font-weight="normal" fill="#222" >-0.6</text>
<line x1="289.30" y1="413.7" x2="289.30" y2="554.6" stroke="#f0f0f0" stroke-width="0.5"/>
<line x1="318.75" y1="413.7" x2="318.75" y2="554.6" stroke="#f0f0f0" stroke-width="0.5"/>
<line x1="348.20" y1="413.7" x2="348.20" y2="554.6" stroke="#f0f0f0" stroke-width="0.5"/>
<line x1="377.65" y1="413.7" x2="377.65" y2="554.6" stroke="#f0f0f0" stroke-width="0.5"/>
<line x1="407.10" y1="413.7" x2="407.10" y2="554.6" stroke="#f0f0f0" stroke-width="0.5"/>
<line x1="436.55" y1="413.7" x2="436.55" y2="554.6" stroke="#f0f0f0" stroke-width="0.5"/>
<line x1="288.40000000000003" y1="424.90" x2="440.8" y2="424.90" stroke="#8a8a8a" stroke-width="0.6"/>
<polyline points="288.8,425.0 290.8,423.1 292.3,418.8 292.7,418.1 295.8,418.5 296.5,419.6 297.3,416.9 298.5,416.8 300.4,417.7 303.0,419.2 304.6,418.3 308.0,419.6 311.9,421.2 315.8,423.5 319.8,425.2 325.0,428.6 339.2,437.3 358.5,448.8 377.7,460.4 396.9,470.4 404.6,474.8 412.3,477.3 416.1,477.0 418.6,476.2 421.3,475.2 423.2,471.5 425.0,467.7 426.3,464.0 428.2,459.0 429.4,456.4 430.0,447.6 430.7,435.0 431.3,424.4" fill="none" stroke="#72a848" stroke-width="1.25" stroke-linejoin="round"/>
<text x="295.40000000000003" y="458.9" font-size="4.8" text-anchor="start" font-weight="normal" fill="#555" >p=0.0</text>
<text x="295.40000000000003" y="464.4" font-size="4.8" text-anchor="start" font-weight="normal" fill="#555" >FDR=0.0</text>
<text x="295.40000000000003" y="469.9" font-size="4.8" text-anchor="start" font-weight="normal" fill="#555" >NES=-1.73</text>
<line x1="288.40000000000003" y1="481.5" x2="439.8" y2="481.5" stroke="#d8d8d8" stroke-width="0.5"/>
<rect x="289.0" y="482.2" width="1.6" height="21.3" fill="#999"/>
<rect x="291.0" y="482.2" width="0.8" height="21.3" fill="#777"/>
<rect x="292.3" y="482.2" width="1.6" height="21.3" fill="#aaa"/>
<rect x="296.4" y="482.2" width="2.2" height="21.3" fill="#888"/>
<rect x="302.2" y="482.2" width="2.2" height="21.3" fill="#444"/>
<rect x="305.4" y="482.2" width="0.8" height="21.3" fill="#888"/>
<rect x="307.3" y="482.2" width="0.8" height="21.3" fill="#555"/>
<rect x="310.2" y="482.2" width="0.8" height="21.3" fill="#444"/>
<rect x="315.0" y="482.2" width="0.7" height="21.3" fill="#666"/>
<rect x="318.0" y="482.2" width="0.7" height="21.3" fill="#555"/>
<rect x="320.6" y="482.2" width="0.7" height="21.3" fill="#777"/>
<rect x="326.4" y="482.2" width="0.8" height="21.3" fill="#555"/>
<rect x="333.0" y="482.2" width="0.7" height="21.3" fill="#999"/>
<rect x="347.8" y="482.2" width="0.7" height="21.3" fill="#666"/>
<rect x="350.4" y="482.2" width="0.7" height="21.3" fill="#555"/>
<rect x="353.4" y="482.2" width="0.7" height="21.3" fill="#444"/>
<rect x="361.6" y="482.2" width="0.7" height="21.3" fill="#444"/>
<rect x="363.8" y="482.2" width="0.7" height="21.3" fill="#555"/>
<rect x="369.0" y="482.2" width="0.7" height="21.3" fill="#444"/>
<rect x="377.2" y="482.2" width="0.7" height="21.3" fill="#444"/>
<rect x="384.5" y="482.2" width="0.7" height="21.3" fill="#555"/>
<rect x="387.5" y="482.2" width="0.7" height="21.3" fill="#666"/>
<rect x="389.4" y="482.2" width="0.7" height="21.3" fill="#777"/>
<rect x="391.0" y="482.2" width="0.7" height="21.3" fill="#555"/>
<rect x="393.5" y="482.2" width="0.7" height="21.3" fill="#777"/>
<rect x="396.8" y="482.2" width="0.7" height="21.3" fill="#999"/>
<rect x="399.2" y="482.2" width="0.7" height="21.3" fill="#888"/>
<rect x="402.8" y="482.2" width="1.2" height="21.3" fill="#888"/>
<rect x="404.8" y="482.2" width="0.8" height="21.3" fill="#999"/>
<rect x="409.0" y="482.2" width="1.5" height="21.3" fill="#aaa"/>
<rect x="411.5" y="482.2" width="1" height="21.3" fill="#888"/>
<rect x="413.4" y="482.2" width="1.2" height="21.3" fill="#777"/>
<rect x="415.6" y="482.2" width="1" height="21.3" fill="#666"/>
<rect x="417.6" y="482.2" width="1.4" height="21.3" fill="#666"/>
<rect x="419.8" y="482.2" width="1.2" height="21.3" fill="#555"/>
<rect x="421.8" y="482.2" width="1.4" height="21.3" fill="#444"/>
<rect x="424.0" y="482.2" width="2.2" height="21.3" fill="#333"/>
<rect x="426.6" y="482.2" width="1.2" height="21.3" fill="#111"/>
<rect x="428.4" y="482.2" width="3.6" height="21.3" fill="#000"/>
<defs><linearGradient id="gD" x1="0" x2="1" y1="0" y2="0"><stop offset="0" stop-color="#cc3242"/><stop offset="0.2" stop-color="#d44a58"/><stop offset="0.285" stop-color="#d86470"/><stop offset="0.3" stop-color="#e6b0cc"/><stop offset="0.5" stop-color="#dcc4e0"/><stop offset="0.55" stop-color="#d0c8e6"/><stop offset="0.74" stop-color="#c4bee4"/><stop offset="0.76" stop-color="#a49cd6"/><stop offset="0.81" stop-color="#9890d0"/><stop offset="0.83" stop-color="#5a52b8"/><stop offset="1" stop-color="#3c34a4"/></linearGradient></defs>
<rect x="289.90000000000003" y="503.9" width="142.6" height="5.5" fill="url(#gD)"/>
<text x="290.6" y="513.6" font-size="3.8" text-anchor="start" font-weight="normal" fill="#c83a3a" >MIG (positively correlated)</text>
<line x1="288.40000000000003" y1="511.70" x2="439.8" y2="511.70" stroke="#f0f0f0" stroke-width="0.5"/>
<text x="285.00000000000006" y="513.80" font-size="5.9" text-anchor="end" font-weight="normal" fill="#222" >5.0</text>
<line x1="288.40000000000003" y1="522.00" x2="439.8" y2="522.00" stroke="#f0f0f0" stroke-width="0.5"/>
<text x="285.00000000000006" y="524.10" font-size="5.9" text-anchor="end" font-weight="normal" fill="#222" >2.5</text>
<line x1="288.40000000000003" y1="532.30" x2="439.8" y2="532.30" stroke="#f0f0f0" stroke-width="0.5"/>
<text x="285.00000000000006" y="534.40" font-size="5.9" text-anchor="end" font-weight="normal" fill="#222" >0.0</text>
<line x1="288.40000000000003" y1="542.60" x2="439.8" y2="542.60" stroke="#f0f0f0" stroke-width="0.5"/>
<text x="285.00000000000006" y="544.70" font-size="5.9" text-anchor="end" font-weight="normal" fill="#222" >-2.5</text>
<line x1="288.40000000000003" y1="552.90" x2="439.8" y2="552.90" stroke="#f0f0f0" stroke-width="0.5"/>
<text x="285.00000000000006" y="555.00" font-size="5.9" text-anchor="end" font-weight="normal" fill="#222" >-5.0</text>
<polygon points="288.9,532.4 288.9,521.9 289.6,524.5 291.0,526.9 293.0,528.0 297.0,529.8 304.6,531.0 317.6,531.6 337.6,532.0 367.6,532.2 398.8,532.4 412.6,533.0 420.0,534.4 425.0,536.9 429.0,540.6 431.0,543.8 431.9,551.0 432.5,551.0 432.5,532.4" fill="#c4c4c4"/>
<line x1="288.40000000000003" y1="532.3" x2="439.8" y2="532.3" stroke="#8a8a8a" stroke-width="0.5"/>
<rect x="352.20000000000005" y="530.3" width="28" height="4" fill="#fff"/>
<text x="366.20000000000005" y="533.6" font-size="3.8" text-anchor="middle" font-weight="normal" fill="#333" >Zero cross at 6339</text>
<text x="389.1" y="553.3" font-size="3.8" text-anchor="middle" font-weight="normal" fill="#3a3ab0" >Hhex (negatively correlated)</text>
<text x="289.30" y="563.6" font-size="5.7" text-anchor="middle" font-weight="normal" fill="#222" >0</text>
<text x="318.75" y="563.6" font-size="5.7" text-anchor="middle" font-weight="normal" fill="#222" >2,500</text>
<text x="348.20" y="563.6" font-size="5.7" text-anchor="middle" font-weight="normal" fill="#222" >5,000</text>
<text x="377.65" y="563.6" font-size="5.7" text-anchor="middle" font-weight="normal" fill="#222" >7,500</text>
<text x="407.10" y="563.6" font-size="5.7" text-anchor="middle" font-weight="normal" fill="#222" >10,000</text>
<text x="436.55" y="563.6" font-size="5.7" text-anchor="middle" font-weight="normal" fill="#222" >12,500</text>
<text x="339.5" y="574.2" font-size="7.2" text-anchor="start" font-weight="bold" fill="#111" textLength="49.7" lengthAdjust="spacingAndGlyphs">Rank in ordered dataset</text>
<text transform="translate(270.70000000000005,447.6) rotate(-90)" font-size="7" text-anchor="middle" fill="#111" stroke="#111" stroke-width="0.15" textLength="46.3" lengthAdjust="spacingAndGlyphs">Enrichment score (ES)</text>
<text transform="translate(270.70000000000005,532.7) rotate(-90)" font-size="7" text-anchor="middle" fill="#111" stroke="#111" stroke-width="0.15" textLength="70.8" lengthAdjust="spacingAndGlyphs">Ranked list metric (Signal2Noise)</text>
<rect x="299.8" y="587.2" width="5.8" height="1" fill="#a9cc86"/>
<text x="309.6" y="589.6" font-size="4.4" text-anchor="start" font-weight="normal" fill="#555" >Enrichment profile</text>
<rect x="348.6" y="587" width="5" height="1.4" fill="#111"/>
<text x="357.20000000000005" y="589.6" font-size="4.4" text-anchor="start" font-weight="normal" fill="#555" >Hits</text>
<rect x="368.6" y="585.4" width="4" height="0.6" fill="#888"/>
<rect x="376.1" y="587.4" width="5" height="0.8" fill="#aaa"/>
<text x="384.90000000000003" y="589.6" font-size="4.4" text-anchor="start" font-weight="normal" fill="#555" >Ranking metric scores</text>
<text x="458.3" y="398.4" font-size="6.8" text-anchor="middle" font-weight="normal" fill="#111" >MIG</text>
<text x="475.3" y="389.9" font-size="6.8" text-anchor="middle" font-weight="normal" fill="#111" >MIG-</text>
<text x="475.3" y="398.4" font-size="6.8" text-anchor="middle" font-weight="normal" fill="#111" >Hhex</text>
<rect x="449.40" y="401.4" width="35.78" height="1.3" fill="#1a1a1a"/>
<rect x="449.30" y="401" width="1.2" height="2" fill="#000"/>
<rect x="484.08" y="401" width="1.2" height="2" fill="#000"/>
<rect x="466.49" y="401" width="1.6" height="2" fill="#000"/>
<rect x="449.80" y="404.20" width="5.83" height="5.74" fill="#5450ae" stroke="#18165c" stroke-width="0.85"/>
<rect x="455.63" y="404.20" width="5.83" height="5.74" fill="#7a78c2" stroke="#18165c" stroke-width="0.85"/>
<rect x="461.46" y="404.20" width="5.83" height="5.74" fill="#3c3698" stroke="#18165c" stroke-width="0.85"/>
<rect x="467.29" y="404.20" width="5.83" height="5.74" fill="#de6a78" stroke="#760c18" stroke-width="0.85"/>
<rect x="473.12" y="404.20" width="5.83" height="5.74" fill="#c41c2e" stroke="#760c18" stroke-width="0.85"/>
<rect x="478.95" y="404.20" width="5.83" height="5.74" fill="#de6a78" stroke="#760c18" stroke-width="0.85"/>
<text x="488.38" y="409.30" font-size="4.6" text-anchor="start" font-weight="normal" fill="#333" >C8</text>
<rect x="449.80" y="409.94" width="5.83" height="5.74" fill="#3c3698" stroke="#18165c" stroke-width="0.85"/>
<rect x="455.63" y="409.94" width="5.83" height="5.74" fill="#e4e6f4" stroke="#18165c" stroke-width="0.85"/>
<rect x="461.46" y="409.94" width="5.83" height="5.74" fill="#cc3a4a" stroke="#760c18" stroke-width="0.85"/>
<rect x="467.29" y="409.94" width="5.83" height="5.74" fill="#eed2dc" stroke="#760c18" stroke-width="0.85"/>
<rect x="473.12" y="409.94" width="5.83" height="5.74" fill="#de6a78" stroke="#760c18" stroke-width="0.85"/>
<rect x="478.95" y="409.94" width="5.83" height="5.74" fill="#c41c2e" stroke="#760c18" stroke-width="0.85"/>
<text x="488.38" y="415.04" font-size="4.6" text-anchor="start" font-weight="normal" fill="#333" >Tcfa/b</text>
<rect x="449.80" y="415.68" width="5.83" height="5.74" fill="#3c3698" stroke="#18165c" stroke-width="0.85"/>
<rect x="455.63" y="415.68" width="5.83" height="5.74" fill="#dc7468" stroke="#760c18" stroke-width="0.85"/>
<rect x="461.46" y="415.68" width="5.83" height="5.74" fill="#5450ae" stroke="#18165c" stroke-width="0.85"/>
<rect x="467.29" y="415.68" width="5.83" height="5.74" fill="#7a78c2" stroke="#18165c" stroke-width="0.85"/>
<rect x="473.12" y="415.68" width="5.83" height="5.74" fill="#c41c2e" stroke="#760c18" stroke-width="0.85"/>
<rect x="478.95" y="415.68" width="5.83" height="5.74" fill="#c41c2e" stroke="#760c18" stroke-width="0.85"/>
<text x="488.38" y="420.78" font-size="4.6" text-anchor="start" font-weight="normal" fill="#333" >Usp2</text>
<rect x="449.80" y="421.42" width="5.83" height="5.74" fill="#3c3698" stroke="#18165c" stroke-width="0.85"/>
<rect x="455.63" y="421.42" width="5.83" height="5.74" fill="#3c3698" stroke="#18165c" stroke-width="0.85"/>
<rect x="461.46" y="421.42" width="5.83" height="5.74" fill="#bab4e0" stroke="#18165c" stroke-width="0.85"/>
<rect x="467.29" y="421.42" width="5.83" height="5.74" fill="#eed2dc" stroke="#760c18" stroke-width="0.85"/>
<rect x="473.12" y="421.42" width="5.83" height="5.74" fill="#dc7468" stroke="#760c18" stroke-width="0.85"/>
<rect x="478.95" y="421.42" width="5.83" height="5.74" fill="#c41c2e" stroke="#760c18" stroke-width="0.85"/>
<text x="488.38" y="426.52" font-size="4.6" text-anchor="start" font-weight="normal" fill="#333" >Cre4l2</text>
<rect x="449.80" y="427.16" width="5.83" height="5.74" fill="#3c3698" stroke="#18165c" stroke-width="0.85"/>
<rect x="455.63" y="427.16" width="5.83" height="5.74" fill="#e4e6f4" stroke="#18165c" stroke-width="0.85"/>
<rect x="461.46" y="427.16" width="5.83" height="5.74" fill="#7a78c2" stroke="#18165c" stroke-width="0.85"/>
<rect x="467.29" y="427.16" width="5.83" height="5.74" fill="#bab4e0" stroke="#18165c" stroke-width="0.85"/>
<rect x="473.12" y="427.16" width="5.83" height="5.74" fill="#c41c2e" stroke="#760c18" stroke-width="0.85"/>
<rect x="478.95" y="427.16" width="5.83" height="5.74" fill="#c41c2e" stroke="#760c18" stroke-width="0.85"/>
<text x="488.38" y="432.26" font-size="4.6" text-anchor="start" font-weight="normal" fill="#333" >Nfra</text>
<rect x="449.80" y="432.90" width="5.83" height="5.74" fill="#bab4e0" stroke="#18165c" stroke-width="0.85"/>
<rect x="455.63" y="432.90" width="5.83" height="5.74" fill="#3c3698" stroke="#18165c" stroke-width="0.85"/>
<rect x="461.46" y="432.90" width="5.83" height="5.74" fill="#3c3698" stroke="#18165c" stroke-width="0.85"/>
<rect x="467.29" y="432.90" width="5.83" height="5.74" fill="#c41c2e" stroke="#760c18" stroke-width="0.85"/>
<rect x="473.12" y="432.90" width="5.83" height="5.74" fill="#de6a78" stroke="#760c18" stroke-width="0.85"/>
<rect x="478.95" y="432.90" width="5.83" height="5.74" fill="#de6a78" stroke="#760c18" stroke-width="0.85"/>
<text x="488.38" y="438.00" font-size="4.6" text-anchor="start" font-weight="normal" fill="#333" >Dsgb</text>
<rect x="449.80" y="438.64" width="5.83" height="5.74" fill="#dc7468" stroke="#760c18" stroke-width="0.85"/>
<rect x="455.63" y="438.64" width="5.83" height="5.74" fill="#e4e6f4" stroke="#18165c" stroke-width="0.85"/>
<rect x="461.46" y="438.64" width="5.83" height="5.74" fill="#3c3698" stroke="#18165c" stroke-width="0.85"/>
<rect x="467.29" y="438.64" width="5.83" height="5.74" fill="#c41c2e" stroke="#760c18" stroke-width="0.85"/>
<rect x="473.12" y="438.64" width="5.83" height="5.74" fill="#de6a78" stroke="#760c18" stroke-width="0.85"/>
<rect x="478.95" y="438.64" width="5.83" height="5.74" fill="#de6a78" stroke="#760c18" stroke-width="0.85"/>
<text x="488.38" y="443.74" font-size="4.6" text-anchor="start" font-weight="normal" fill="#333" >Rps6ka2</text>
<rect x="449.80" y="444.38" width="5.83" height="5.74" fill="#e4e6f4" stroke="#18165c" stroke-width="0.85"/>
<rect x="455.63" y="444.38" width="5.83" height="5.74" fill="#7a78c2" stroke="#18165c" stroke-width="0.85"/>
<rect x="461.46" y="444.38" width="5.83" height="5.74" fill="#3c3698" stroke="#18165c" stroke-width="0.85"/>
<rect x="467.29" y="444.38" width="5.83" height="5.74" fill="#c41c2e" stroke="#760c18" stroke-width="0.85"/>
<rect x="473.12" y="444.38" width="5.83" height="5.74" fill="#cc3a4a" stroke="#760c18" stroke-width="0.85"/>
<rect x="478.95" y="444.38" width="5.83" height="5.74" fill="#de6a78" stroke="#760c18" stroke-width="0.85"/>
<text x="488.38" y="449.48" font-size="4.6" text-anchor="start" font-weight="normal" fill="#333" >Cdc42ep4</text>
<rect x="449.80" y="450.12" width="5.83" height="5.74" fill="#3c3698" stroke="#18165c" stroke-width="0.85"/>
<rect x="455.63" y="450.12" width="5.83" height="5.74" fill="#9490d0" stroke="#18165c" stroke-width="0.85"/>
<rect x="461.46" y="450.12" width="5.83" height="5.74" fill="#5450ae" stroke="#18165c" stroke-width="0.85"/>
<rect x="467.29" y="450.12" width="5.83" height="5.74" fill="#eed2dc" stroke="#760c18" stroke-width="0.85"/>
<rect x="473.12" y="450.12" width="5.83" height="5.74" fill="#c41c2e" stroke="#760c18" stroke-width="0.85"/>
<rect x="478.95" y="450.12" width="5.83" height="5.74" fill="#c41c2e" stroke="#760c18" stroke-width="0.85"/>
<text x="488.38" y="455.22" font-size="4.6" text-anchor="start" font-weight="normal" fill="#333" >Celsr1</text>
<rect x="449.80" y="455.86" width="5.83" height="5.74" fill="#3c3698" stroke="#18165c" stroke-width="0.85"/>
<rect x="455.63" y="455.86" width="5.83" height="5.74" fill="#7a78c2" stroke="#18165c" stroke-width="0.85"/>
<rect x="461.46" y="455.86" width="5.83" height="5.74" fill="#7a78c2" stroke="#18165c" stroke-width="0.85"/>
<rect x="467.29" y="455.86" width="5.83" height="5.74" fill="#de6a78" stroke="#760c18" stroke-width="0.85"/>
<rect x="473.12" y="455.86" width="5.83" height="5.74" fill="#c41c2e" stroke="#760c18" stroke-width="0.85"/>
<rect x="478.95" y="455.86" width="5.83" height="5.74" fill="#cc3a4a" stroke="#760c18" stroke-width="0.85"/>
<text x="488.38" y="460.96" font-size="4.6" text-anchor="start" font-weight="normal" fill="#333" >Plek2</text>
<rect x="449.80" y="461.60" width="5.83" height="5.74" fill="#3c3698" stroke="#18165c" stroke-width="0.85"/>
<rect x="455.63" y="461.60" width="5.83" height="5.74" fill="#e4e6f4" stroke="#18165c" stroke-width="0.85"/>
<rect x="461.46" y="461.60" width="5.83" height="5.74" fill="#3c3698" stroke="#18165c" stroke-width="0.85"/>
<rect x="467.29" y="461.60" width="5.83" height="5.74" fill="#de6a78" stroke="#760c18" stroke-width="0.85"/>
<rect x="473.12" y="461.60" width="5.83" height="5.74" fill="#c41c2e" stroke="#760c18" stroke-width="0.85"/>
<rect x="478.95" y="461.60" width="5.83" height="5.74" fill="#de6a78" stroke="#760c18" stroke-width="0.85"/>
<text x="488.38" y="466.70" font-size="4.6" text-anchor="start" font-weight="normal" fill="#333" >Gsx7</text>
<rect x="449.80" y="467.34" width="5.83" height="5.74" fill="#eed2dc" stroke="#760c18" stroke-width="0.85"/>
<rect x="455.63" y="467.34" width="5.83" height="5.74" fill="#5450ae" stroke="#18165c" stroke-width="0.85"/>
<rect x="461.46" y="467.34" width="5.83" height="5.74" fill="#3c3698" stroke="#18165c" stroke-width="0.85"/>
<rect x="467.29" y="467.34" width="5.83" height="5.74" fill="#c41c2e" stroke="#760c18" stroke-width="0.85"/>
<rect x="473.12" y="467.34" width="5.83" height="5.74" fill="#de6a78" stroke="#760c18" stroke-width="0.85"/>
<rect x="478.95" y="467.34" width="5.83" height="5.74" fill="#eed2dc" stroke="#760c18" stroke-width="0.85"/>
<text x="488.38" y="472.44" font-size="4.6" text-anchor="start" font-weight="normal" fill="#333" >Sorbs1a</text>
<rect x="449.80" y="473.08" width="5.83" height="5.74" fill="#7a78c2" stroke="#18165c" stroke-width="0.85"/>
<rect x="455.63" y="473.08" width="5.83" height="5.74" fill="#5450ae" stroke="#18165c" stroke-width="0.85"/>
<rect x="461.46" y="473.08" width="5.83" height="5.74" fill="#3c3698" stroke="#18165c" stroke-width="0.85"/>
<rect x="467.29" y="473.08" width="5.83" height="5.74" fill="#c41c2e" stroke="#760c18" stroke-width="0.85"/>
<rect x="473.12" y="473.08" width="5.83" height="5.74" fill="#c41c2e" stroke="#760c18" stroke-width="0.85"/>
<rect x="478.95" y="473.08" width="5.83" height="5.74" fill="#cc3a4a" stroke="#760c18" stroke-width="0.85"/>
<text x="488.38" y="478.18" font-size="4.6" text-anchor="start" font-weight="normal" fill="#333" >Hsd11b1</text>
<rect x="449.80" y="478.82" width="5.83" height="5.74" fill="#e4e6f4" stroke="#18165c" stroke-width="0.85"/>
<rect x="455.63" y="478.82" width="5.83" height="5.74" fill="#7a78c2" stroke="#18165c" stroke-width="0.85"/>
<rect x="461.46" y="478.82" width="5.83" height="5.74" fill="#3c3698" stroke="#18165c" stroke-width="0.85"/>
<rect x="467.29" y="478.82" width="5.83" height="5.74" fill="#c41c2e" stroke="#760c18" stroke-width="0.85"/>
<rect x="473.12" y="478.82" width="5.83" height="5.74" fill="#c41c2e" stroke="#760c18" stroke-width="0.85"/>
<rect x="478.95" y="478.82" width="5.83" height="5.74" fill="#eed2dc" stroke="#760c18" stroke-width="0.85"/>
<text x="488.38" y="483.92" font-size="4.6" text-anchor="start" font-weight="normal" fill="#333" >Arhgef10</text>
<rect x="449.80" y="484.56" width="5.83" height="5.74" fill="#5450ae" stroke="#18165c" stroke-width="0.85"/>
<rect x="455.63" y="484.56" width="5.83" height="5.74" fill="#7a78c2" stroke="#18165c" stroke-width="0.85"/>
<rect x="461.46" y="484.56" width="5.83" height="5.74" fill="#3c3698" stroke="#18165c" stroke-width="0.85"/>
<rect x="467.29" y="484.56" width="5.83" height="5.74" fill="#c41c2e" stroke="#760c18" stroke-width="0.85"/>
<rect x="473.12" y="484.56" width="5.83" height="5.74" fill="#c41c2e" stroke="#760c18" stroke-width="0.85"/>
<rect x="478.95" y="484.56" width="5.83" height="5.74" fill="#eed2dc" stroke="#760c18" stroke-width="0.85"/>
<text x="488.38" y="489.66" font-size="4.6" text-anchor="start" font-weight="normal" fill="#333" >Slc9c1</text>
<rect x="449.80" y="490.30" width="5.83" height="5.74" fill="#3c3698" stroke="#18165c" stroke-width="0.85"/>
<rect x="455.63" y="490.30" width="5.83" height="5.74" fill="#e4e6f4" stroke="#18165c" stroke-width="0.85"/>
<rect x="461.46" y="490.30" width="5.83" height="5.74" fill="#3c3698" stroke="#18165c" stroke-width="0.85"/>
<rect x="467.29" y="490.30" width="5.83" height="5.74" fill="#e4e6f4" stroke="#18165c" stroke-width="0.85"/>
<rect x="473.12" y="490.30" width="5.83" height="5.74" fill="#c41c2e" stroke="#760c18" stroke-width="0.85"/>
<rect x="478.95" y="490.30" width="5.83" height="5.74" fill="#c41c2e" stroke="#760c18" stroke-width="0.85"/>
<text x="488.38" y="495.40" font-size="4.6" text-anchor="start" font-weight="normal" fill="#333" >Lamb2</text>
<rect x="449.80" y="496.04" width="5.83" height="5.74" fill="#e4e6f4" stroke="#18165c" stroke-width="0.85"/>
<rect x="455.63" y="496.04" width="5.83" height="5.74" fill="#7a78c2" stroke="#18165c" stroke-width="0.85"/>
<rect x="461.46" y="496.04" width="5.83" height="5.74" fill="#3c3698" stroke="#18165c" stroke-width="0.85"/>
<rect x="467.29" y="496.04" width="5.83" height="5.74" fill="#c41c2e" stroke="#760c18" stroke-width="0.85"/>
<rect x="473.12" y="496.04" width="5.83" height="5.74" fill="#c41c2e" stroke="#760c18" stroke-width="0.85"/>
<rect x="478.95" y="496.04" width="5.83" height="5.74" fill="#cc3a4a" stroke="#760c18" stroke-width="0.85"/>
<text x="488.38" y="501.14" font-size="4.6" text-anchor="start" font-weight="normal" fill="#333" >Man1c1</text>
<rect x="449.80" y="501.78" width="5.83" height="5.74" fill="#3c3698" stroke="#18165c" stroke-width="0.85"/>
<rect x="455.63" y="501.78" width="5.83" height="5.74" fill="#7a78c2" stroke="#18165c" stroke-width="0.85"/>
<rect x="461.46" y="501.78" width="5.83" height="5.74" fill="#9490d0" stroke="#18165c" stroke-width="0.85"/>
<rect x="467.29" y="501.78" width="5.83" height="5.74" fill="#de6a78" stroke="#760c18" stroke-width="0.85"/>
<rect x="473.12" y="501.78" width="5.83" height="5.74" fill="#c41c2e" stroke="#760c18" stroke-width="0.85"/>
<rect x="478.95" y="501.78" width="5.83" height="5.74" fill="#cc3a4a" stroke="#760c18" stroke-width="0.85"/>
<text x="488.38" y="506.88" font-size="4.6" text-anchor="start" font-weight="normal" fill="#333" >Mir</text>
<rect x="449.80" y="507.52" width="5.83" height="5.74" fill="#e4e6f4" stroke="#18165c" stroke-width="0.85"/>
<rect x="455.63" y="507.52" width="5.83" height="5.74" fill="#5450ae" stroke="#18165c" stroke-width="0.85"/>
<rect x="461.46" y="507.52" width="5.83" height="5.74" fill="#3c3698" stroke="#18165c" stroke-width="0.85"/>
<rect x="467.29" y="507.52" width="5.83" height="5.74" fill="#c41c2e" stroke="#760c18" stroke-width="0.85"/>
<rect x="473.12" y="507.52" width="5.83" height="5.74" fill="#c41c2e" stroke="#760c18" stroke-width="0.85"/>
<rect x="478.95" y="507.52" width="5.83" height="5.74" fill="#cc3a4a" stroke="#760c18" stroke-width="0.85"/>
<text x="488.38" y="512.62" font-size="4.6" text-anchor="start" font-weight="normal" fill="#333" >Cda1</text>
<rect x="449.80" y="513.26" width="5.83" height="5.74" fill="#e4e6f4" stroke="#18165c" stroke-width="0.85"/>
<rect x="455.63" y="513.26" width="5.83" height="5.74" fill="#7a78c2" stroke="#18165c" stroke-width="0.85"/>
<rect x="461.46" y="513.26" width="5.83" height="5.74" fill="#3c3698" stroke="#18165c" stroke-width="0.85"/>
<rect x="467.29" y="513.26" width="5.83" height="5.74" fill="#c41c2e" stroke="#760c18" stroke-width="0.85"/>
<rect x="473.12" y="513.26" width="5.83" height="5.74" fill="#de6a78" stroke="#760c18" stroke-width="0.85"/>
<rect x="478.95" y="513.26" width="5.83" height="5.74" fill="#cc3a4a" stroke="#760c18" stroke-width="0.85"/>
<text x="488.38" y="518.36" font-size="4.6" text-anchor="start" font-weight="normal" fill="#333" >Rapgef3</text>
<rect x="449.80" y="519.00" width="5.83" height="5.74" fill="#3c3698" stroke="#18165c" stroke-width="0.85"/>
<rect x="455.63" y="519.00" width="5.83" height="5.74" fill="#3c3698" stroke="#18165c" stroke-width="0.85"/>
<rect x="461.46" y="519.00" width="5.83" height="5.74" fill="#7a78c2" stroke="#18165c" stroke-width="0.85"/>
<rect x="467.29" y="519.00" width="5.83" height="5.74" fill="#c41c2e" stroke="#760c18" stroke-width="0.85"/>
<rect x="473.12" y="519.00" width="5.83" height="5.74" fill="#cc3a4a" stroke="#760c18" stroke-width="0.85"/>
<rect x="478.95" y="519.00" width="5.83" height="5.74" fill="#e4e6f4" stroke="#18165c" stroke-width="0.85"/>
<text x="488.38" y="524.10" font-size="4.6" text-anchor="start" font-weight="normal" fill="#333" >Aph1b</text>
<rect x="449.80" y="524.74" width="5.83" height="5.74" fill="#e4e6f4" stroke="#18165c" stroke-width="0.85"/>
<rect x="455.63" y="524.74" width="5.83" height="5.74" fill="#7a78c2" stroke="#18165c" stroke-width="0.85"/>
<rect x="461.46" y="524.74" width="5.83" height="5.74" fill="#3c3698" stroke="#18165c" stroke-width="0.85"/>
<rect x="467.29" y="524.74" width="5.83" height="5.74" fill="#cc3a4a" stroke="#760c18" stroke-width="0.85"/>
<rect x="473.12" y="524.74" width="5.83" height="5.74" fill="#de6a78" stroke="#760c18" stroke-width="0.85"/>
<rect x="478.95" y="524.74" width="5.83" height="5.74" fill="#c41c2e" stroke="#760c18" stroke-width="0.85"/>
<text x="488.38" y="529.84" font-size="4.6" text-anchor="start" font-weight="normal" fill="#333" >Endou</text>
<rect x="449.80" y="530.48" width="5.83" height="5.74" fill="#bab4e0" stroke="#18165c" stroke-width="0.85"/>
<rect x="455.63" y="530.48" width="5.83" height="5.74" fill="#3c3698" stroke="#18165c" stroke-width="0.85"/>
<rect x="461.46" y="530.48" width="5.83" height="5.74" fill="#3c3698" stroke="#18165c" stroke-width="0.85"/>
<rect x="467.29" y="530.48" width="5.83" height="5.74" fill="#c41c2e" stroke="#760c18" stroke-width="0.85"/>
<rect x="473.12" y="530.48" width="5.83" height="5.74" fill="#de6a78" stroke="#760c18" stroke-width="0.85"/>
<rect x="478.95" y="530.48" width="5.83" height="5.74" fill="#cc3a4a" stroke="#760c18" stroke-width="0.85"/>
<text x="488.38" y="535.58" font-size="4.6" text-anchor="start" font-weight="normal" fill="#333" >Tmem119</text>
<rect x="449.80" y="536.22" width="5.83" height="5.74" fill="#3c3698" stroke="#18165c" stroke-width="0.85"/>
<rect x="455.63" y="536.22" width="5.83" height="5.74" fill="#7a78c2" stroke="#18165c" stroke-width="0.85"/>
<rect x="461.46" y="536.22" width="5.83" height="5.74" fill="#3c3698" stroke="#18165c" stroke-width="0.85"/>
<rect x="467.29" y="536.22" width="5.83" height="5.74" fill="#c41c2e" stroke="#760c18" stroke-width="0.85"/>
<rect x="473.12" y="536.22" width="5.83" height="5.74" fill="#c41c2e" stroke="#760c18" stroke-width="0.85"/>
<rect x="478.95" y="536.22" width="5.83" height="5.74" fill="#de6a78" stroke="#760c18" stroke-width="0.85"/>
<text x="488.38" y="541.32" font-size="4.6" text-anchor="start" font-weight="normal" fill="#333" >Myadm2</text>
<rect x="449.80" y="541.96" width="5.83" height="5.74" fill="#7a78c2" stroke="#18165c" stroke-width="0.85"/>
<rect x="455.63" y="541.96" width="5.83" height="5.74" fill="#3c3698" stroke="#18165c" stroke-width="0.85"/>
<rect x="461.46" y="541.96" width="5.83" height="5.74" fill="#e4e6f4" stroke="#18165c" stroke-width="0.85"/>
<rect x="467.29" y="541.96" width="5.83" height="5.74" fill="#dc7468" stroke="#760c18" stroke-width="0.85"/>
<rect x="473.12" y="541.96" width="5.83" height="5.74" fill="#cc3a4a" stroke="#760c18" stroke-width="0.85"/>
<rect x="478.95" y="541.96" width="5.83" height="5.74" fill="#c41c2e" stroke="#760c18" stroke-width="0.85"/>
<text x="488.38" y="547.06" font-size="4.6" text-anchor="start" font-weight="normal" fill="#333" >Tle3</text>
<rect x="449.80" y="547.70" width="5.83" height="5.74" fill="#bab4e0" stroke="#18165c" stroke-width="0.85"/>
<rect x="455.63" y="547.70" width="5.83" height="5.74" fill="#7a78c2" stroke="#18165c" stroke-width="0.85"/>
<rect x="461.46" y="547.70" width="5.83" height="5.74" fill="#3c3698" stroke="#18165c" stroke-width="0.85"/>
<rect x="467.29" y="547.70" width="5.83" height="5.74" fill="#cc3a4a" stroke="#760c18" stroke-width="0.85"/>
<rect x="473.12" y="547.70" width="5.83" height="5.74" fill="#c41c2e" stroke="#760c18" stroke-width="0.85"/>
<rect x="478.95" y="547.70" width="5.83" height="5.74" fill="#cc3a4a" stroke="#760c18" stroke-width="0.85"/>
<text x="488.38" y="552.80" font-size="4.6" text-anchor="start" font-weight="normal" fill="#333" >Tmem132a</text>
<rect x="449.80" y="553.44" width="5.83" height="5.74" fill="#e4e6f4" stroke="#18165c" stroke-width="0.85"/>
<rect x="455.63" y="553.44" width="5.83" height="5.74" fill="#7a78c2" stroke="#18165c" stroke-width="0.85"/>
<rect x="461.46" y="553.44" width="5.83" height="5.74" fill="#3c3698" stroke="#18165c" stroke-width="0.85"/>
<rect x="467.29" y="553.44" width="5.83" height="5.74" fill="#de6a78" stroke="#760c18" stroke-width="0.85"/>
<rect x="473.12" y="553.44" width="5.83" height="5.74" fill="#c41c2e" stroke="#760c18" stroke-width="0.85"/>
<rect x="478.95" y="553.44" width="5.83" height="5.74" fill="#cc3a4a" stroke="#760c18" stroke-width="0.85"/>
<text x="488.38" y="558.54" font-size="4.6" text-anchor="start" font-weight="normal" fill="#333" >Kcnq3</text>
<rect x="449.80" y="559.18" width="5.83" height="5.74" fill="#5450ae" stroke="#18165c" stroke-width="0.85"/>
<rect x="455.63" y="559.18" width="5.83" height="5.74" fill="#3c3698" stroke="#18165c" stroke-width="0.85"/>
<rect x="461.46" y="559.18" width="5.83" height="5.74" fill="#3c3698" stroke="#18165c" stroke-width="0.85"/>
<rect x="467.29" y="559.18" width="5.83" height="5.74" fill="#c41c2e" stroke="#760c18" stroke-width="0.85"/>
<rect x="473.12" y="559.18" width="5.83" height="5.74" fill="#c41c2e" stroke="#760c18" stroke-width="0.85"/>
<rect x="478.95" y="559.18" width="5.83" height="5.74" fill="#c41c2e" stroke="#760c18" stroke-width="0.85"/>
<text x="488.38" y="564.28" font-size="4.6" text-anchor="start" font-weight="normal" fill="#333" >Dmwd</text>
<rect x="449.80" y="564.92" width="5.83" height="5.74" fill="#bab4e0" stroke="#18165c" stroke-width="0.85"/>
<rect x="455.63" y="564.92" width="5.83" height="5.74" fill="#3c3698" stroke="#18165c" stroke-width="0.85"/>
<rect x="461.46" y="564.92" width="5.83" height="5.74" fill="#5450ae" stroke="#18165c" stroke-width="0.85"/>
<rect x="467.29" y="564.92" width="5.83" height="5.74" fill="#de6a78" stroke="#760c18" stroke-width="0.85"/>
<rect x="473.12" y="564.92" width="5.83" height="5.74" fill="#c41c2e" stroke="#760c18" stroke-width="0.85"/>
<rect x="478.95" y="564.92" width="5.83" height="5.74" fill="#c41c2e" stroke="#760c18" stroke-width="0.85"/>
<text x="488.38" y="570.02" font-size="4.6" text-anchor="start" font-weight="normal" fill="#333" >Tspan9</text>
<rect x="449.80" y="570.66" width="5.83" height="5.74" fill="#3c3698" stroke="#18165c" stroke-width="0.85"/>
<rect x="455.63" y="570.66" width="5.83" height="5.74" fill="#7a78c2" stroke="#18165c" stroke-width="0.85"/>
<rect x="461.46" y="570.66" width="5.83" height="5.74" fill="#7a78c2" stroke="#18165c" stroke-width="0.85"/>
<rect x="467.29" y="570.66" width="5.83" height="5.74" fill="#c41c2e" stroke="#760c18" stroke-width="0.85"/>
<rect x="473.12" y="570.66" width="5.83" height="5.74" fill="#c41c2e" stroke="#760c18" stroke-width="0.85"/>
<rect x="478.95" y="570.66" width="5.83" height="5.74" fill="#de6a78" stroke="#760c18" stroke-width="0.85"/>
<text x="488.38" y="575.76" font-size="4.6" text-anchor="start" font-weight="normal" fill="#333" >Cd6</text>
<rect x="0" y="0" width="520" height="1.5" fill="#000"/>
<rect x="0" y="0" width="1.5" height="598" fill="#000"/>
<rect x="518" y="0" width="2" height="598" fill="#000"/>
<rect x="0" y="596" width="520" height="2" fill="#000"/>
</svg>
</body></html>
